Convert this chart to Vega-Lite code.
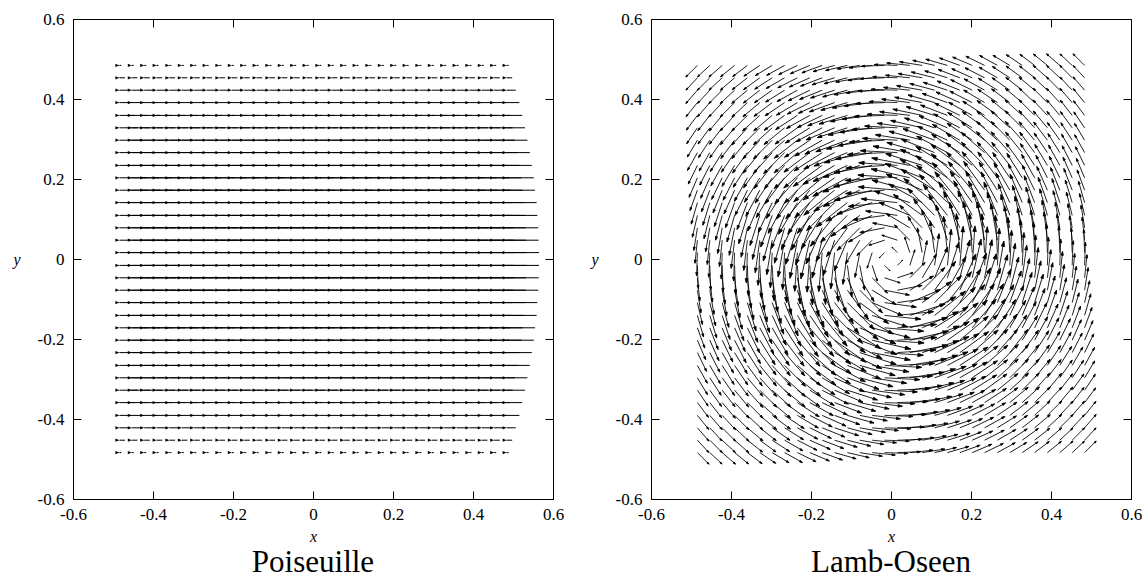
{"$schema":"https://vega.github.io/schema/vega-lite/v6.json","padding":{"left":12,"top":9,"right":0,"bottom":0},"spacing":25,
"config":{"view":{"stroke":"black","strokeWidth":1},"style":{"guide-label":{"font":"Liberation Serif","fontSize":17,"fill":"black"},"guide-title":{"font":"Liberation Serif","fontSize":16,"fontStyle":"italic","fontWeight":"normal","fill":"black"}}},
"hconcat":[
{"width":480,"height":480,"title":{"text":"Poiseuille","orient":"bottom","anchor":"middle","font":"Liberation Serif","fontSize":31,"fontWeight":"normal","color":"black","offset":4},"data":{"name":"pois"},
"encoding":{"x":{"field":"x","type":"quantitative","scale":{"domain":[-0.6,0.6],"nice":false,"zero":false},"axis":{"orient":"bottom","values":[-0.6,-0.4,-0.2,0,0.2,0.4,0.6],"labelExpr":"(datum.value < 0 ? '-' : '') + format(abs(datum.value), '.1~f')","title":"x","domain":false,"ticks":false,"grid":true,"gridColor":"black","gridOpacity":1,"gridDash":[8,464],"labelFont":"Liberation Serif","labelFontSize":17,"labelPadding":7,"labelFlush":false,"labelOverlap":false,"titleFont":"Liberation Serif","titleFontSize":16,"titleFontStyle":"italic","titleFontWeight":"normal","titlePadding":6}},
"y":{"field":"y","type":"quantitative","scale":{"domain":[-0.6,0.6],"nice":false,"zero":false},"axis":{"orient":"left","values":[-0.6,-0.4,-0.2,0,0.2,0.4,0.6],"labelExpr":"(datum.value < 0 ? '-' : '') + format(abs(datum.value), '.1~f')","title":"y","domain":false,"ticks":false,"grid":true,"gridColor":"black","gridOpacity":1,"gridDash":[8,464],"labelFont":"Liberation Serif","labelFontSize":17,"labelPadding":9,"labelFlush":false,"labelOverlap":false,"titleFont":"Liberation Serif","titleFontSize":16,"titleFontStyle":"italic","titleFontWeight":"normal","titleAngle":0,"titleAlign":"right","titleBaseline":"middle","titlePadding":17}}},
"layer":[
{"mark":{"type":"point","shape":"M0,0L2,0","filled":false,"stroke":"black","strokeWidth":1,"opacity":1},
"encoding":{"size":{"field":"u","type":"quantitative","scale":{"type":"pow","exponent":2,"domain":[0,100],"range":[0,1600]},"legend":null}}},
{"mark":{"type":"point","shape":"M0,0L-2,-0.8L-2,0.8Z","filled":true,"fill":"black","size":16,"opacity":1},
"encoding":{"xOffset":{"field":"u","type":"quantitative","scale":{"domain":[0,100],"range":[0,40]}}}}]},
{"width":480,"height":480,"title":{"text":"Lamb-Oseen","orient":"bottom","anchor":"middle","font":"Liberation Serif","fontSize":31,"fontWeight":"normal","color":"black","offset":4},"data":{"name":"lamb"},
"mark":{"type":"point","shape":"M0,0L2,0M2,0L1.72,-0.09L1.72,0.09Z","filled":true,"fill":"black","stroke":"black","strokeWidth":0.8,"opacity":1},
"encoding":{"x":{"field":"x","type":"quantitative","scale":{"domain":[-0.6,0.6],"nice":false,"zero":false},"axis":{"orient":"bottom","values":[-0.6,-0.4,-0.2,0,0.2,0.4,0.6],"labelExpr":"(datum.value < 0 ? '-' : '') + format(abs(datum.value), '.1~f')","title":"x","domain":false,"ticks":false,"grid":true,"gridColor":"black","gridOpacity":1,"gridDash":[8,464],"labelFont":"Liberation Serif","labelFontSize":17,"labelPadding":7,"labelFlush":false,"labelOverlap":false,"titleFont":"Liberation Serif","titleFontSize":16,"titleFontStyle":"italic","titleFontWeight":"normal","titlePadding":6}},
"y":{"field":"y","type":"quantitative","scale":{"domain":[-0.6,0.6],"nice":false,"zero":false},"axis":{"orient":"left","values":[-0.6,-0.4,-0.2,0,0.2,0.4,0.6],"labelExpr":"(datum.value < 0 ? '-' : '') + format(abs(datum.value), '.1~f')","title":"y","domain":false,"ticks":false,"grid":true,"gridColor":"black","gridOpacity":1,"gridDash":[8,464],"labelFont":"Liberation Serif","labelFontSize":17,"labelPadding":9,"labelFlush":false,"labelOverlap":false,"titleFont":"Liberation Serif","titleFontSize":16,"titleFontStyle":"italic","titleFontWeight":"normal","titleAngle":0,"titleAlign":"right","titleBaseline":"middle","titlePadding":17}},
"size":{"field":"m","type":"quantitative","scale":{"type":"pow","exponent":2,"domain":[0,100],"range":[0,1600]},"legend":null},
"angle":{"field":"a","type":"quantitative","scale":{"domain":[0,360],"range":[360,0]},"legend":null}}}],
"datasets":{
"pois":[
{"x":-0.484,"y":-0.484,"u":5},{"x":-0.453,"y":-0.484,"u":5},{"x":-0.422,"y":-0.484,"u":5},{"x":-0.391,"y":-0.484,"u":5},{"x":-0.359,"y":-0.484,"u":5},{"x":-0.328,"y":-0.484,"u":5},{"x":-0.297,"y":-0.484,"u":5},{"x":-0.266,"y":-0.484,"u":5},{"x":-0.234,"y":-0.484,"u":5},{"x":-0.203,"y":-0.484,"u":5},{"x":-0.172,"y":-0.484,"u":5},{"x":-0.141,"y":-0.484,"u":5},{"x":-0.109,"y":-0.484,"u":5},{"x":-0.078,"y":-0.484,"u":5},{"x":-0.047,"y":-0.484,"u":5},{"x":-0.016,"y":-0.484,"u":5},{"x":0.016,"y":-0.484,"u":5},{"x":0.047,"y":-0.484,"u":5},{"x":0.078,"y":-0.484,"u":5},{"x":0.109,"y":-0.484,"u":5},{"x":0.141,"y":-0.484,"u":5},{"x":0.172,"y":-0.484,"u":5},{"x":0.203,"y":-0.484,"u":5},{"x":0.234,"y":-0.484,"u":5},{"x":0.266,"y":-0.484,"u":5},{"x":0.297,"y":-0.484,"u":5},{"x":0.328,"y":-0.484,"u":5},{"x":0.359,"y":-0.484,"u":5},{"x":0.391,"y":-0.484,"u":5},{"x":0.422,"y":-0.484,"u":5},{"x":0.453,"y":-0.484,"u":5},{"x":0.484,"y":-0.484,"u":5},
{"x":-0.484,"y":-0.453,"u":14},{"x":-0.453,"y":-0.453,"u":14},{"x":-0.422,"y":-0.453,"u":14},{"x":-0.391,"y":-0.453,"u":14},{"x":-0.359,"y":-0.453,"u":14},{"x":-0.328,"y":-0.453,"u":14},{"x":-0.297,"y":-0.453,"u":14},{"x":-0.266,"y":-0.453,"u":14},{"x":-0.234,"y":-0.453,"u":14},{"x":-0.203,"y":-0.453,"u":14},{"x":-0.172,"y":-0.453,"u":14},{"x":-0.141,"y":-0.453,"u":14},{"x":-0.109,"y":-0.453,"u":14},{"x":-0.078,"y":-0.453,"u":14},{"x":-0.047,"y":-0.453,"u":14},{"x":-0.016,"y":-0.453,"u":14},{"x":0.016,"y":-0.453,"u":14},{"x":0.047,"y":-0.453,"u":14},{"x":0.078,"y":-0.453,"u":14},{"x":0.109,"y":-0.453,"u":14},{"x":0.141,"y":-0.453,"u":14},{"x":0.172,"y":-0.453,"u":14},{"x":0.203,"y":-0.453,"u":14},{"x":0.234,"y":-0.453,"u":14},{"x":0.266,"y":-0.453,"u":14},{"x":0.297,"y":-0.453,"u":14},{"x":0.328,"y":-0.453,"u":14},{"x":0.359,"y":-0.453,"u":14},{"x":0.391,"y":-0.453,"u":14},{"x":0.422,"y":-0.453,"u":14},{"x":0.453,"y":-0.453,"u":14},{"x":0.484,"y":-0.453,"u":14},
{"x":-0.484,"y":-0.422,"u":23},{"x":-0.453,"y":-0.422,"u":23},{"x":-0.422,"y":-0.422,"u":23},{"x":-0.391,"y":-0.422,"u":23},{"x":-0.359,"y":-0.422,"u":23},{"x":-0.328,"y":-0.422,"u":23},{"x":-0.297,"y":-0.422,"u":23},{"x":-0.266,"y":-0.422,"u":23},{"x":-0.234,"y":-0.422,"u":23},{"x":-0.203,"y":-0.422,"u":23},{"x":-0.172,"y":-0.422,"u":23},{"x":-0.141,"y":-0.422,"u":23},{"x":-0.109,"y":-0.422,"u":23},{"x":-0.078,"y":-0.422,"u":23},{"x":-0.047,"y":-0.422,"u":23},{"x":-0.016,"y":-0.422,"u":23},{"x":0.016,"y":-0.422,"u":23},{"x":0.047,"y":-0.422,"u":23},{"x":0.078,"y":-0.422,"u":23},{"x":0.109,"y":-0.422,"u":23},{"x":0.141,"y":-0.422,"u":23},{"x":0.172,"y":-0.422,"u":23},{"x":0.203,"y":-0.422,"u":23},{"x":0.234,"y":-0.422,"u":23},{"x":0.266,"y":-0.422,"u":23},{"x":0.297,"y":-0.422,"u":23},{"x":0.328,"y":-0.422,"u":23},{"x":0.359,"y":-0.422,"u":23},{"x":0.391,"y":-0.422,"u":23},{"x":0.422,"y":-0.422,"u":23},{"x":0.453,"y":-0.422,"u":23},{"x":0.484,"y":-0.422,"u":23},
{"x":-0.484,"y":-0.391,"u":32},{"x":-0.453,"y":-0.391,"u":32},{"x":-0.422,"y":-0.391,"u":32},{"x":-0.391,"y":-0.391,"u":32},{"x":-0.359,"y":-0.391,"u":32},{"x":-0.328,"y":-0.391,"u":32},{"x":-0.297,"y":-0.391,"u":32},{"x":-0.266,"y":-0.391,"u":32},{"x":-0.234,"y":-0.391,"u":32},{"x":-0.203,"y":-0.391,"u":32},{"x":-0.172,"y":-0.391,"u":32},{"x":-0.141,"y":-0.391,"u":32},{"x":-0.109,"y":-0.391,"u":32},{"x":-0.078,"y":-0.391,"u":32},{"x":-0.047,"y":-0.391,"u":32},{"x":-0.016,"y":-0.391,"u":32},{"x":0.016,"y":-0.391,"u":32},{"x":0.047,"y":-0.391,"u":32},{"x":0.078,"y":-0.391,"u":32},{"x":0.109,"y":-0.391,"u":32},{"x":0.141,"y":-0.391,"u":32},{"x":0.172,"y":-0.391,"u":32},{"x":0.203,"y":-0.391,"u":32},{"x":0.234,"y":-0.391,"u":32},{"x":0.266,"y":-0.391,"u":32},{"x":0.297,"y":-0.391,"u":32},{"x":0.328,"y":-0.391,"u":32},{"x":0.359,"y":-0.391,"u":32},{"x":0.391,"y":-0.391,"u":32},{"x":0.422,"y":-0.391,"u":32},{"x":0.453,"y":-0.391,"u":32},{"x":0.484,"y":-0.391,"u":32},
{"x":-0.484,"y":-0.359,"u":39},{"x":-0.453,"y":-0.359,"u":39},{"x":-0.422,"y":-0.359,"u":39},{"x":-0.391,"y":-0.359,"u":39},{"x":-0.359,"y":-0.359,"u":39},{"x":-0.328,"y":-0.359,"u":39},{"x":-0.297,"y":-0.359,"u":39},{"x":-0.266,"y":-0.359,"u":39},{"x":-0.234,"y":-0.359,"u":39},{"x":-0.203,"y":-0.359,"u":39},{"x":-0.172,"y":-0.359,"u":39},{"x":-0.141,"y":-0.359,"u":39},{"x":-0.109,"y":-0.359,"u":39},{"x":-0.078,"y":-0.359,"u":39},{"x":-0.047,"y":-0.359,"u":39},{"x":-0.016,"y":-0.359,"u":39},{"x":0.016,"y":-0.359,"u":39},{"x":0.047,"y":-0.359,"u":39},{"x":0.078,"y":-0.359,"u":39},{"x":0.109,"y":-0.359,"u":39},{"x":0.141,"y":-0.359,"u":39},{"x":0.172,"y":-0.359,"u":39},{"x":0.203,"y":-0.359,"u":39},{"x":0.234,"y":-0.359,"u":39},{"x":0.266,"y":-0.359,"u":39},{"x":0.297,"y":-0.359,"u":39},{"x":0.328,"y":-0.359,"u":39},{"x":0.359,"y":-0.359,"u":39},{"x":0.391,"y":-0.359,"u":39},{"x":0.422,"y":-0.359,"u":39},{"x":0.453,"y":-0.359,"u":39},{"x":0.484,"y":-0.359,"u":39},
{"x":-0.484,"y":-0.328,"u":46},{"x":-0.453,"y":-0.328,"u":46},{"x":-0.422,"y":-0.328,"u":46},{"x":-0.391,"y":-0.328,"u":46},{"x":-0.359,"y":-0.328,"u":46},{"x":-0.328,"y":-0.328,"u":46},{"x":-0.297,"y":-0.328,"u":46},{"x":-0.266,"y":-0.328,"u":46},{"x":-0.234,"y":-0.328,"u":46},{"x":-0.203,"y":-0.328,"u":46},{"x":-0.172,"y":-0.328,"u":46},{"x":-0.141,"y":-0.328,"u":46},{"x":-0.109,"y":-0.328,"u":46},{"x":-0.078,"y":-0.328,"u":46},{"x":-0.047,"y":-0.328,"u":46},{"x":-0.016,"y":-0.328,"u":46},{"x":0.016,"y":-0.328,"u":46},{"x":0.047,"y":-0.328,"u":46},{"x":0.078,"y":-0.328,"u":46},{"x":0.109,"y":-0.328,"u":46},{"x":0.141,"y":-0.328,"u":46},{"x":0.172,"y":-0.328,"u":46},{"x":0.203,"y":-0.328,"u":46},{"x":0.234,"y":-0.328,"u":46},{"x":0.266,"y":-0.328,"u":46},{"x":0.297,"y":-0.328,"u":46},{"x":0.328,"y":-0.328,"u":46},{"x":0.359,"y":-0.328,"u":46},{"x":0.391,"y":-0.328,"u":46},{"x":0.422,"y":-0.328,"u":46},{"x":0.453,"y":-0.328,"u":46},{"x":0.484,"y":-0.328,"u":46},
{"x":-0.484,"y":-0.297,"u":52},{"x":-0.453,"y":-0.297,"u":52},{"x":-0.422,"y":-0.297,"u":52},{"x":-0.391,"y":-0.297,"u":52},{"x":-0.359,"y":-0.297,"u":52},{"x":-0.328,"y":-0.297,"u":52},{"x":-0.297,"y":-0.297,"u":52},{"x":-0.266,"y":-0.297,"u":52},{"x":-0.234,"y":-0.297,"u":52},{"x":-0.203,"y":-0.297,"u":52},{"x":-0.172,"y":-0.297,"u":52},{"x":-0.141,"y":-0.297,"u":52},{"x":-0.109,"y":-0.297,"u":52},{"x":-0.078,"y":-0.297,"u":52},{"x":-0.047,"y":-0.297,"u":52},{"x":-0.016,"y":-0.297,"u":52},{"x":0.016,"y":-0.297,"u":52},{"x":0.047,"y":-0.297,"u":52},{"x":0.078,"y":-0.297,"u":52},{"x":0.109,"y":-0.297,"u":52},{"x":0.141,"y":-0.297,"u":52},{"x":0.172,"y":-0.297,"u":52},{"x":0.203,"y":-0.297,"u":52},{"x":0.234,"y":-0.297,"u":52},{"x":0.266,"y":-0.297,"u":52},{"x":0.297,"y":-0.297,"u":52},{"x":0.328,"y":-0.297,"u":52},{"x":0.359,"y":-0.297,"u":52},{"x":0.391,"y":-0.297,"u":52},{"x":0.422,"y":-0.297,"u":52},{"x":0.453,"y":-0.297,"u":52},{"x":0.484,"y":-0.297,"u":52},
{"x":-0.484,"y":-0.266,"u":58},{"x":-0.453,"y":-0.266,"u":58},{"x":-0.422,"y":-0.266,"u":58},{"x":-0.391,"y":-0.266,"u":58},{"x":-0.359,"y":-0.266,"u":58},{"x":-0.328,"y":-0.266,"u":58},{"x":-0.297,"y":-0.266,"u":58},{"x":-0.266,"y":-0.266,"u":58},{"x":-0.234,"y":-0.266,"u":58},{"x":-0.203,"y":-0.266,"u":58},{"x":-0.172,"y":-0.266,"u":58},{"x":-0.141,"y":-0.266,"u":58},{"x":-0.109,"y":-0.266,"u":58},{"x":-0.078,"y":-0.266,"u":58},{"x":-0.047,"y":-0.266,"u":58},{"x":-0.016,"y":-0.266,"u":58},{"x":0.016,"y":-0.266,"u":58},{"x":0.047,"y":-0.266,"u":58},{"x":0.078,"y":-0.266,"u":58},{"x":0.109,"y":-0.266,"u":58},{"x":0.141,"y":-0.266,"u":58},{"x":0.172,"y":-0.266,"u":58},{"x":0.203,"y":-0.266,"u":58},{"x":0.234,"y":-0.266,"u":58},{"x":0.266,"y":-0.266,"u":58},{"x":0.297,"y":-0.266,"u":58},{"x":0.328,"y":-0.266,"u":58},{"x":0.359,"y":-0.266,"u":58},{"x":0.391,"y":-0.266,"u":58},{"x":0.422,"y":-0.266,"u":58},{"x":0.453,"y":-0.266,"u":58},{"x":0.484,"y":-0.266,"u":58},
{"x":-0.484,"y":-0.234,"u":63},{"x":-0.453,"y":-0.234,"u":63},{"x":-0.422,"y":-0.234,"u":63},{"x":-0.391,"y":-0.234,"u":63},{"x":-0.359,"y":-0.234,"u":63},{"x":-0.328,"y":-0.234,"u":63},{"x":-0.297,"y":-0.234,"u":63},{"x":-0.266,"y":-0.234,"u":63},{"x":-0.234,"y":-0.234,"u":63},{"x":-0.203,"y":-0.234,"u":63},{"x":-0.172,"y":-0.234,"u":63},{"x":-0.141,"y":-0.234,"u":63},{"x":-0.109,"y":-0.234,"u":63},{"x":-0.078,"y":-0.234,"u":63},{"x":-0.047,"y":-0.234,"u":63},{"x":-0.016,"y":-0.234,"u":63},{"x":0.016,"y":-0.234,"u":63},{"x":0.047,"y":-0.234,"u":63},{"x":0.078,"y":-0.234,"u":63},{"x":0.109,"y":-0.234,"u":63},{"x":0.141,"y":-0.234,"u":63},{"x":0.172,"y":-0.234,"u":63},{"x":0.203,"y":-0.234,"u":63},{"x":0.234,"y":-0.234,"u":63},{"x":0.266,"y":-0.234,"u":63},{"x":0.297,"y":-0.234,"u":63},{"x":0.328,"y":-0.234,"u":63},{"x":0.359,"y":-0.234,"u":63},{"x":0.391,"y":-0.234,"u":63},{"x":0.422,"y":-0.234,"u":63},{"x":0.453,"y":-0.234,"u":63},{"x":0.484,"y":-0.234,"u":63},
{"x":-0.484,"y":-0.203,"u":68},{"x":-0.453,"y":-0.203,"u":68},{"x":-0.422,"y":-0.203,"u":68},{"x":-0.391,"y":-0.203,"u":68},{"x":-0.359,"y":-0.203,"u":68},{"x":-0.328,"y":-0.203,"u":68},{"x":-0.297,"y":-0.203,"u":68},{"x":-0.266,"y":-0.203,"u":68},{"x":-0.234,"y":-0.203,"u":68},{"x":-0.203,"y":-0.203,"u":68},{"x":-0.172,"y":-0.203,"u":68},{"x":-0.141,"y":-0.203,"u":68},{"x":-0.109,"y":-0.203,"u":68},{"x":-0.078,"y":-0.203,"u":68},{"x":-0.047,"y":-0.203,"u":68},{"x":-0.016,"y":-0.203,"u":68},{"x":0.016,"y":-0.203,"u":68},{"x":0.047,"y":-0.203,"u":68},{"x":0.078,"y":-0.203,"u":68},{"x":0.109,"y":-0.203,"u":68},{"x":0.141,"y":-0.203,"u":68},{"x":0.172,"y":-0.203,"u":68},{"x":0.203,"y":-0.203,"u":68},{"x":0.234,"y":-0.203,"u":68},{"x":0.266,"y":-0.203,"u":68},{"x":0.297,"y":-0.203,"u":68},{"x":0.328,"y":-0.203,"u":68},{"x":0.359,"y":-0.203,"u":68},{"x":0.391,"y":-0.203,"u":68},{"x":0.422,"y":-0.203,"u":68},{"x":0.453,"y":-0.203,"u":68},{"x":0.484,"y":-0.203,"u":68},
{"x":-0.484,"y":-0.172,"u":71},{"x":-0.453,"y":-0.172,"u":71},{"x":-0.422,"y":-0.172,"u":71},{"x":-0.391,"y":-0.172,"u":71},{"x":-0.359,"y":-0.172,"u":71},{"x":-0.328,"y":-0.172,"u":71},{"x":-0.297,"y":-0.172,"u":71},{"x":-0.266,"y":-0.172,"u":71},{"x":-0.234,"y":-0.172,"u":71},{"x":-0.203,"y":-0.172,"u":71},{"x":-0.172,"y":-0.172,"u":71},{"x":-0.141,"y":-0.172,"u":71},{"x":-0.109,"y":-0.172,"u":71},{"x":-0.078,"y":-0.172,"u":71},{"x":-0.047,"y":-0.172,"u":71},{"x":-0.016,"y":-0.172,"u":71},{"x":0.016,"y":-0.172,"u":71},{"x":0.047,"y":-0.172,"u":71},{"x":0.078,"y":-0.172,"u":71},{"x":0.109,"y":-0.172,"u":71},{"x":0.141,"y":-0.172,"u":71},{"x":0.172,"y":-0.172,"u":71},{"x":0.203,"y":-0.172,"u":71},{"x":0.234,"y":-0.172,"u":71},{"x":0.266,"y":-0.172,"u":71},{"x":0.297,"y":-0.172,"u":71},{"x":0.328,"y":-0.172,"u":71},{"x":0.359,"y":-0.172,"u":71},{"x":0.391,"y":-0.172,"u":71},{"x":0.422,"y":-0.172,"u":71},{"x":0.453,"y":-0.172,"u":71},{"x":0.484,"y":-0.172,"u":71},
{"x":-0.484,"y":-0.141,"u":75},{"x":-0.453,"y":-0.141,"u":75},{"x":-0.422,"y":-0.141,"u":75},{"x":-0.391,"y":-0.141,"u":75},{"x":-0.359,"y":-0.141,"u":75},{"x":-0.328,"y":-0.141,"u":75},{"x":-0.297,"y":-0.141,"u":75},{"x":-0.266,"y":-0.141,"u":75},{"x":-0.234,"y":-0.141,"u":75},{"x":-0.203,"y":-0.141,"u":75},{"x":-0.172,"y":-0.141,"u":75},{"x":-0.141,"y":-0.141,"u":75},{"x":-0.109,"y":-0.141,"u":75},{"x":-0.078,"y":-0.141,"u":75},{"x":-0.047,"y":-0.141,"u":75},{"x":-0.016,"y":-0.141,"u":75},{"x":0.016,"y":-0.141,"u":75},{"x":0.047,"y":-0.141,"u":75},{"x":0.078,"y":-0.141,"u":75},{"x":0.109,"y":-0.141,"u":75},{"x":0.141,"y":-0.141,"u":75},{"x":0.172,"y":-0.141,"u":75},{"x":0.203,"y":-0.141,"u":75},{"x":0.234,"y":-0.141,"u":75},{"x":0.266,"y":-0.141,"u":75},{"x":0.297,"y":-0.141,"u":75},{"x":0.328,"y":-0.141,"u":75},{"x":0.359,"y":-0.141,"u":75},{"x":0.391,"y":-0.141,"u":75},{"x":0.422,"y":-0.141,"u":75},{"x":0.453,"y":-0.141,"u":75},{"x":0.484,"y":-0.141,"u":75},
{"x":-0.484,"y":-0.109,"u":77},{"x":-0.453,"y":-0.109,"u":77},{"x":-0.422,"y":-0.109,"u":77},{"x":-0.391,"y":-0.109,"u":77},{"x":-0.359,"y":-0.109,"u":77},{"x":-0.328,"y":-0.109,"u":77},{"x":-0.297,"y":-0.109,"u":77},{"x":-0.266,"y":-0.109,"u":77},{"x":-0.234,"y":-0.109,"u":77},{"x":-0.203,"y":-0.109,"u":77},{"x":-0.172,"y":-0.109,"u":77},{"x":-0.141,"y":-0.109,"u":77},{"x":-0.109,"y":-0.109,"u":77},{"x":-0.078,"y":-0.109,"u":77},{"x":-0.047,"y":-0.109,"u":77},{"x":-0.016,"y":-0.109,"u":77},{"x":0.016,"y":-0.109,"u":77},{"x":0.047,"y":-0.109,"u":77},{"x":0.078,"y":-0.109,"u":77},{"x":0.109,"y":-0.109,"u":77},{"x":0.141,"y":-0.109,"u":77},{"x":0.172,"y":-0.109,"u":77},{"x":0.203,"y":-0.109,"u":77},{"x":0.234,"y":-0.109,"u":77},{"x":0.266,"y":-0.109,"u":77},{"x":0.297,"y":-0.109,"u":77},{"x":0.328,"y":-0.109,"u":77},{"x":0.359,"y":-0.109,"u":77},{"x":0.391,"y":-0.109,"u":77},{"x":0.422,"y":-0.109,"u":77},{"x":0.453,"y":-0.109,"u":77},{"x":0.484,"y":-0.109,"u":77},
{"x":-0.484,"y":-0.078,"u":79},{"x":-0.453,"y":-0.078,"u":79},{"x":-0.422,"y":-0.078,"u":79},{"x":-0.391,"y":-0.078,"u":79},{"x":-0.359,"y":-0.078,"u":79},{"x":-0.328,"y":-0.078,"u":79},{"x":-0.297,"y":-0.078,"u":79},{"x":-0.266,"y":-0.078,"u":79},{"x":-0.234,"y":-0.078,"u":79},{"x":-0.203,"y":-0.078,"u":79},{"x":-0.172,"y":-0.078,"u":79},{"x":-0.141,"y":-0.078,"u":79},{"x":-0.109,"y":-0.078,"u":79},{"x":-0.078,"y":-0.078,"u":79},{"x":-0.047,"y":-0.078,"u":79},{"x":-0.016,"y":-0.078,"u":79},{"x":0.016,"y":-0.078,"u":79},{"x":0.047,"y":-0.078,"u":79},{"x":0.078,"y":-0.078,"u":79},{"x":0.109,"y":-0.078,"u":79},{"x":0.141,"y":-0.078,"u":79},{"x":0.172,"y":-0.078,"u":79},{"x":0.203,"y":-0.078,"u":79},{"x":0.234,"y":-0.078,"u":79},{"x":0.266,"y":-0.078,"u":79},{"x":0.297,"y":-0.078,"u":79},{"x":0.328,"y":-0.078,"u":79},{"x":0.359,"y":-0.078,"u":79},{"x":0.391,"y":-0.078,"u":79},{"x":0.422,"y":-0.078,"u":79},{"x":0.453,"y":-0.078,"u":79},{"x":0.484,"y":-0.078,"u":79},
{"x":-0.484,"y":-0.047,"u":80},{"x":-0.453,"y":-0.047,"u":80},{"x":-0.422,"y":-0.047,"u":80},{"x":-0.391,"y":-0.047,"u":80},{"x":-0.359,"y":-0.047,"u":80},{"x":-0.328,"y":-0.047,"u":80},{"x":-0.297,"y":-0.047,"u":80},{"x":-0.266,"y":-0.047,"u":80},{"x":-0.234,"y":-0.047,"u":80},{"x":-0.203,"y":-0.047,"u":80},{"x":-0.172,"y":-0.047,"u":80},{"x":-0.141,"y":-0.047,"u":80},{"x":-0.109,"y":-0.047,"u":80},{"x":-0.078,"y":-0.047,"u":80},{"x":-0.047,"y":-0.047,"u":80},{"x":-0.016,"y":-0.047,"u":80},{"x":0.016,"y":-0.047,"u":80},{"x":0.047,"y":-0.047,"u":80},{"x":0.078,"y":-0.047,"u":80},{"x":0.109,"y":-0.047,"u":80},{"x":0.141,"y":-0.047,"u":80},{"x":0.172,"y":-0.047,"u":80},{"x":0.203,"y":-0.047,"u":80},{"x":0.234,"y":-0.047,"u":80},{"x":0.266,"y":-0.047,"u":80},{"x":0.297,"y":-0.047,"u":80},{"x":0.328,"y":-0.047,"u":80},{"x":0.359,"y":-0.047,"u":80},{"x":0.391,"y":-0.047,"u":80},{"x":0.422,"y":-0.047,"u":80},{"x":0.453,"y":-0.047,"u":80},{"x":0.484,"y":-0.047,"u":80},
{"x":-0.484,"y":-0.016,"u":81},{"x":-0.453,"y":-0.016,"u":81},{"x":-0.422,"y":-0.016,"u":81},{"x":-0.391,"y":-0.016,"u":81},{"x":-0.359,"y":-0.016,"u":81},{"x":-0.328,"y":-0.016,"u":81},{"x":-0.297,"y":-0.016,"u":81},{"x":-0.266,"y":-0.016,"u":81},{"x":-0.234,"y":-0.016,"u":81},{"x":-0.203,"y":-0.016,"u":81},{"x":-0.172,"y":-0.016,"u":81},{"x":-0.141,"y":-0.016,"u":81},{"x":-0.109,"y":-0.016,"u":81},{"x":-0.078,"y":-0.016,"u":81},{"x":-0.047,"y":-0.016,"u":81},{"x":-0.016,"y":-0.016,"u":81},{"x":0.016,"y":-0.016,"u":81},{"x":0.047,"y":-0.016,"u":81},{"x":0.078,"y":-0.016,"u":81},{"x":0.109,"y":-0.016,"u":81},{"x":0.141,"y":-0.016,"u":81},{"x":0.172,"y":-0.016,"u":81},{"x":0.203,"y":-0.016,"u":81},{"x":0.234,"y":-0.016,"u":81},{"x":0.266,"y":-0.016,"u":81},{"x":0.297,"y":-0.016,"u":81},{"x":0.328,"y":-0.016,"u":81},{"x":0.359,"y":-0.016,"u":81},{"x":0.391,"y":-0.016,"u":81},{"x":0.422,"y":-0.016,"u":81},{"x":0.453,"y":-0.016,"u":81},{"x":0.484,"y":-0.016,"u":81},
{"x":-0.484,"y":0.016,"u":81},{"x":-0.453,"y":0.016,"u":81},{"x":-0.422,"y":0.016,"u":81},{"x":-0.391,"y":0.016,"u":81},{"x":-0.359,"y":0.016,"u":81},{"x":-0.328,"y":0.016,"u":81},{"x":-0.297,"y":0.016,"u":81},{"x":-0.266,"y":0.016,"u":81},{"x":-0.234,"y":0.016,"u":81},{"x":-0.203,"y":0.016,"u":81},{"x":-0.172,"y":0.016,"u":81},{"x":-0.141,"y":0.016,"u":81},{"x":-0.109,"y":0.016,"u":81},{"x":-0.078,"y":0.016,"u":81},{"x":-0.047,"y":0.016,"u":81},{"x":-0.016,"y":0.016,"u":81},{"x":0.016,"y":0.016,"u":81},{"x":0.047,"y":0.016,"u":81},{"x":0.078,"y":0.016,"u":81},{"x":0.109,"y":0.016,"u":81},{"x":0.141,"y":0.016,"u":81},{"x":0.172,"y":0.016,"u":81},{"x":0.203,"y":0.016,"u":81},{"x":0.234,"y":0.016,"u":81},{"x":0.266,"y":0.016,"u":81},{"x":0.297,"y":0.016,"u":81},{"x":0.328,"y":0.016,"u":81},{"x":0.359,"y":0.016,"u":81},{"x":0.391,"y":0.016,"u":81},{"x":0.422,"y":0.016,"u":81},{"x":0.453,"y":0.016,"u":81},{"x":0.484,"y":0.016,"u":81},
{"x":-0.484,"y":0.047,"u":80},{"x":-0.453,"y":0.047,"u":80},{"x":-0.422,"y":0.047,"u":80},{"x":-0.391,"y":0.047,"u":80},{"x":-0.359,"y":0.047,"u":80},{"x":-0.328,"y":0.047,"u":80},{"x":-0.297,"y":0.047,"u":80},{"x":-0.266,"y":0.047,"u":80},{"x":-0.234,"y":0.047,"u":80},{"x":-0.203,"y":0.047,"u":80},{"x":-0.172,"y":0.047,"u":80},{"x":-0.141,"y":0.047,"u":80},{"x":-0.109,"y":0.047,"u":80},{"x":-0.078,"y":0.047,"u":80},{"x":-0.047,"y":0.047,"u":80},{"x":-0.016,"y":0.047,"u":80},{"x":0.016,"y":0.047,"u":80},{"x":0.047,"y":0.047,"u":80},{"x":0.078,"y":0.047,"u":80},{"x":0.109,"y":0.047,"u":80},{"x":0.141,"y":0.047,"u":80},{"x":0.172,"y":0.047,"u":80},{"x":0.203,"y":0.047,"u":80},{"x":0.234,"y":0.047,"u":80},{"x":0.266,"y":0.047,"u":80},{"x":0.297,"y":0.047,"u":80},{"x":0.328,"y":0.047,"u":80},{"x":0.359,"y":0.047,"u":80},{"x":0.391,"y":0.047,"u":80},{"x":0.422,"y":0.047,"u":80},{"x":0.453,"y":0.047,"u":80},{"x":0.484,"y":0.047,"u":80},
{"x":-0.484,"y":0.078,"u":79},{"x":-0.453,"y":0.078,"u":79},{"x":-0.422,"y":0.078,"u":79},{"x":-0.391,"y":0.078,"u":79},{"x":-0.359,"y":0.078,"u":79},{"x":-0.328,"y":0.078,"u":79},{"x":-0.297,"y":0.078,"u":79},{"x":-0.266,"y":0.078,"u":79},{"x":-0.234,"y":0.078,"u":79},{"x":-0.203,"y":0.078,"u":79},{"x":-0.172,"y":0.078,"u":79},{"x":-0.141,"y":0.078,"u":79},{"x":-0.109,"y":0.078,"u":79},{"x":-0.078,"y":0.078,"u":79},{"x":-0.047,"y":0.078,"u":79},{"x":-0.016,"y":0.078,"u":79},{"x":0.016,"y":0.078,"u":79},{"x":0.047,"y":0.078,"u":79},{"x":0.078,"y":0.078,"u":79},{"x":0.109,"y":0.078,"u":79},{"x":0.141,"y":0.078,"u":79},{"x":0.172,"y":0.078,"u":79},{"x":0.203,"y":0.078,"u":79},{"x":0.234,"y":0.078,"u":79},{"x":0.266,"y":0.078,"u":79},{"x":0.297,"y":0.078,"u":79},{"x":0.328,"y":0.078,"u":79},{"x":0.359,"y":0.078,"u":79},{"x":0.391,"y":0.078,"u":79},{"x":0.422,"y":0.078,"u":79},{"x":0.453,"y":0.078,"u":79},{"x":0.484,"y":0.078,"u":79},
{"x":-0.484,"y":0.109,"u":77},{"x":-0.453,"y":0.109,"u":77},{"x":-0.422,"y":0.109,"u":77},{"x":-0.391,"y":0.109,"u":77},{"x":-0.359,"y":0.109,"u":77},{"x":-0.328,"y":0.109,"u":77},{"x":-0.297,"y":0.109,"u":77},{"x":-0.266,"y":0.109,"u":77},{"x":-0.234,"y":0.109,"u":77},{"x":-0.203,"y":0.109,"u":77},{"x":-0.172,"y":0.109,"u":77},{"x":-0.141,"y":0.109,"u":77},{"x":-0.109,"y":0.109,"u":77},{"x":-0.078,"y":0.109,"u":77},{"x":-0.047,"y":0.109,"u":77},{"x":-0.016,"y":0.109,"u":77},{"x":0.016,"y":0.109,"u":77},{"x":0.047,"y":0.109,"u":77},{"x":0.078,"y":0.109,"u":77},{"x":0.109,"y":0.109,"u":77},{"x":0.141,"y":0.109,"u":77},{"x":0.172,"y":0.109,"u":77},{"x":0.203,"y":0.109,"u":77},{"x":0.234,"y":0.109,"u":77},{"x":0.266,"y":0.109,"u":77},{"x":0.297,"y":0.109,"u":77},{"x":0.328,"y":0.109,"u":77},{"x":0.359,"y":0.109,"u":77},{"x":0.391,"y":0.109,"u":77},{"x":0.422,"y":0.109,"u":77},{"x":0.453,"y":0.109,"u":77},{"x":0.484,"y":0.109,"u":77},
{"x":-0.484,"y":0.141,"u":75},{"x":-0.453,"y":0.141,"u":75},{"x":-0.422,"y":0.141,"u":75},{"x":-0.391,"y":0.141,"u":75},{"x":-0.359,"y":0.141,"u":75},{"x":-0.328,"y":0.141,"u":75},{"x":-0.297,"y":0.141,"u":75},{"x":-0.266,"y":0.141,"u":75},{"x":-0.234,"y":0.141,"u":75},{"x":-0.203,"y":0.141,"u":75},{"x":-0.172,"y":0.141,"u":75},{"x":-0.141,"y":0.141,"u":75},{"x":-0.109,"y":0.141,"u":75},{"x":-0.078,"y":0.141,"u":75},{"x":-0.047,"y":0.141,"u":75},{"x":-0.016,"y":0.141,"u":75},{"x":0.016,"y":0.141,"u":75},{"x":0.047,"y":0.141,"u":75},{"x":0.078,"y":0.141,"u":75},{"x":0.109,"y":0.141,"u":75},{"x":0.141,"y":0.141,"u":75},{"x":0.172,"y":0.141,"u":75},{"x":0.203,"y":0.141,"u":75},{"x":0.234,"y":0.141,"u":75},{"x":0.266,"y":0.141,"u":75},{"x":0.297,"y":0.141,"u":75},{"x":0.328,"y":0.141,"u":75},{"x":0.359,"y":0.141,"u":75},{"x":0.391,"y":0.141,"u":75},{"x":0.422,"y":0.141,"u":75},{"x":0.453,"y":0.141,"u":75},{"x":0.484,"y":0.141,"u":75},
{"x":-0.484,"y":0.172,"u":71},{"x":-0.453,"y":0.172,"u":71},{"x":-0.422,"y":0.172,"u":71},{"x":-0.391,"y":0.172,"u":71},{"x":-0.359,"y":0.172,"u":71},{"x":-0.328,"y":0.172,"u":71},{"x":-0.297,"y":0.172,"u":71},{"x":-0.266,"y":0.172,"u":71},{"x":-0.234,"y":0.172,"u":71},{"x":-0.203,"y":0.172,"u":71},{"x":-0.172,"y":0.172,"u":71},{"x":-0.141,"y":0.172,"u":71},{"x":-0.109,"y":0.172,"u":71},{"x":-0.078,"y":0.172,"u":71},{"x":-0.047,"y":0.172,"u":71},{"x":-0.016,"y":0.172,"u":71},{"x":0.016,"y":0.172,"u":71},{"x":0.047,"y":0.172,"u":71},{"x":0.078,"y":0.172,"u":71},{"x":0.109,"y":0.172,"u":71},{"x":0.141,"y":0.172,"u":71},{"x":0.172,"y":0.172,"u":71},{"x":0.203,"y":0.172,"u":71},{"x":0.234,"y":0.172,"u":71},{"x":0.266,"y":0.172,"u":71},{"x":0.297,"y":0.172,"u":71},{"x":0.328,"y":0.172,"u":71},{"x":0.359,"y":0.172,"u":71},{"x":0.391,"y":0.172,"u":71},{"x":0.422,"y":0.172,"u":71},{"x":0.453,"y":0.172,"u":71},{"x":0.484,"y":0.172,"u":71},
{"x":-0.484,"y":0.203,"u":68},{"x":-0.453,"y":0.203,"u":68},{"x":-0.422,"y":0.203,"u":68},{"x":-0.391,"y":0.203,"u":68},{"x":-0.359,"y":0.203,"u":68},{"x":-0.328,"y":0.203,"u":68},{"x":-0.297,"y":0.203,"u":68},{"x":-0.266,"y":0.203,"u":68},{"x":-0.234,"y":0.203,"u":68},{"x":-0.203,"y":0.203,"u":68},{"x":-0.172,"y":0.203,"u":68},{"x":-0.141,"y":0.203,"u":68},{"x":-0.109,"y":0.203,"u":68},{"x":-0.078,"y":0.203,"u":68},{"x":-0.047,"y":0.203,"u":68},{"x":-0.016,"y":0.203,"u":68},{"x":0.016,"y":0.203,"u":68},{"x":0.047,"y":0.203,"u":68},{"x":0.078,"y":0.203,"u":68},{"x":0.109,"y":0.203,"u":68},{"x":0.141,"y":0.203,"u":68},{"x":0.172,"y":0.203,"u":68},{"x":0.203,"y":0.203,"u":68},{"x":0.234,"y":0.203,"u":68},{"x":0.266,"y":0.203,"u":68},{"x":0.297,"y":0.203,"u":68},{"x":0.328,"y":0.203,"u":68},{"x":0.359,"y":0.203,"u":68},{"x":0.391,"y":0.203,"u":68},{"x":0.422,"y":0.203,"u":68},{"x":0.453,"y":0.203,"u":68},{"x":0.484,"y":0.203,"u":68},
{"x":-0.484,"y":0.234,"u":63},{"x":-0.453,"y":0.234,"u":63},{"x":-0.422,"y":0.234,"u":63},{"x":-0.391,"y":0.234,"u":63},{"x":-0.359,"y":0.234,"u":63},{"x":-0.328,"y":0.234,"u":63},{"x":-0.297,"y":0.234,"u":63},{"x":-0.266,"y":0.234,"u":63},{"x":-0.234,"y":0.234,"u":63},{"x":-0.203,"y":0.234,"u":63},{"x":-0.172,"y":0.234,"u":63},{"x":-0.141,"y":0.234,"u":63},{"x":-0.109,"y":0.234,"u":63},{"x":-0.078,"y":0.234,"u":63},{"x":-0.047,"y":0.234,"u":63},{"x":-0.016,"y":0.234,"u":63},{"x":0.016,"y":0.234,"u":63},{"x":0.047,"y":0.234,"u":63},{"x":0.078,"y":0.234,"u":63},{"x":0.109,"y":0.234,"u":63},{"x":0.141,"y":0.234,"u":63},{"x":0.172,"y":0.234,"u":63},{"x":0.203,"y":0.234,"u":63},{"x":0.234,"y":0.234,"u":63},{"x":0.266,"y":0.234,"u":63},{"x":0.297,"y":0.234,"u":63},{"x":0.328,"y":0.234,"u":63},{"x":0.359,"y":0.234,"u":63},{"x":0.391,"y":0.234,"u":63},{"x":0.422,"y":0.234,"u":63},{"x":0.453,"y":0.234,"u":63},{"x":0.484,"y":0.234,"u":63},
{"x":-0.484,"y":0.266,"u":58},{"x":-0.453,"y":0.266,"u":58},{"x":-0.422,"y":0.266,"u":58},{"x":-0.391,"y":0.266,"u":58},{"x":-0.359,"y":0.266,"u":58},{"x":-0.328,"y":0.266,"u":58},{"x":-0.297,"y":0.266,"u":58},{"x":-0.266,"y":0.266,"u":58},{"x":-0.234,"y":0.266,"u":58},{"x":-0.203,"y":0.266,"u":58},{"x":-0.172,"y":0.266,"u":58},{"x":-0.141,"y":0.266,"u":58},{"x":-0.109,"y":0.266,"u":58},{"x":-0.078,"y":0.266,"u":58},{"x":-0.047,"y":0.266,"u":58},{"x":-0.016,"y":0.266,"u":58},{"x":0.016,"y":0.266,"u":58},{"x":0.047,"y":0.266,"u":58},{"x":0.078,"y":0.266,"u":58},{"x":0.109,"y":0.266,"u":58},{"x":0.141,"y":0.266,"u":58},{"x":0.172,"y":0.266,"u":58},{"x":0.203,"y":0.266,"u":58},{"x":0.234,"y":0.266,"u":58},{"x":0.266,"y":0.266,"u":58},{"x":0.297,"y":0.266,"u":58},{"x":0.328,"y":0.266,"u":58},{"x":0.359,"y":0.266,"u":58},{"x":0.391,"y":0.266,"u":58},{"x":0.422,"y":0.266,"u":58},{"x":0.453,"y":0.266,"u":58},{"x":0.484,"y":0.266,"u":58},
{"x":-0.484,"y":0.297,"u":52},{"x":-0.453,"y":0.297,"u":52},{"x":-0.422,"y":0.297,"u":52},{"x":-0.391,"y":0.297,"u":52},{"x":-0.359,"y":0.297,"u":52},{"x":-0.328,"y":0.297,"u":52},{"x":-0.297,"y":0.297,"u":52},{"x":-0.266,"y":0.297,"u":52},{"x":-0.234,"y":0.297,"u":52},{"x":-0.203,"y":0.297,"u":52},{"x":-0.172,"y":0.297,"u":52},{"x":-0.141,"y":0.297,"u":52},{"x":-0.109,"y":0.297,"u":52},{"x":-0.078,"y":0.297,"u":52},{"x":-0.047,"y":0.297,"u":52},{"x":-0.016,"y":0.297,"u":52},{"x":0.016,"y":0.297,"u":52},{"x":0.047,"y":0.297,"u":52},{"x":0.078,"y":0.297,"u":52},{"x":0.109,"y":0.297,"u":52},{"x":0.141,"y":0.297,"u":52},{"x":0.172,"y":0.297,"u":52},{"x":0.203,"y":0.297,"u":52},{"x":0.234,"y":0.297,"u":52},{"x":0.266,"y":0.297,"u":52},{"x":0.297,"y":0.297,"u":52},{"x":0.328,"y":0.297,"u":52},{"x":0.359,"y":0.297,"u":52},{"x":0.391,"y":0.297,"u":52},{"x":0.422,"y":0.297,"u":52},{"x":0.453,"y":0.297,"u":52},{"x":0.484,"y":0.297,"u":52},
{"x":-0.484,"y":0.328,"u":46},{"x":-0.453,"y":0.328,"u":46},{"x":-0.422,"y":0.328,"u":46},{"x":-0.391,"y":0.328,"u":46},{"x":-0.359,"y":0.328,"u":46},{"x":-0.328,"y":0.328,"u":46},{"x":-0.297,"y":0.328,"u":46},{"x":-0.266,"y":0.328,"u":46},{"x":-0.234,"y":0.328,"u":46},{"x":-0.203,"y":0.328,"u":46},{"x":-0.172,"y":0.328,"u":46},{"x":-0.141,"y":0.328,"u":46},{"x":-0.109,"y":0.328,"u":46},{"x":-0.078,"y":0.328,"u":46},{"x":-0.047,"y":0.328,"u":46},{"x":-0.016,"y":0.328,"u":46},{"x":0.016,"y":0.328,"u":46},{"x":0.047,"y":0.328,"u":46},{"x":0.078,"y":0.328,"u":46},{"x":0.109,"y":0.328,"u":46},{"x":0.141,"y":0.328,"u":46},{"x":0.172,"y":0.328,"u":46},{"x":0.203,"y":0.328,"u":46},{"x":0.234,"y":0.328,"u":46},{"x":0.266,"y":0.328,"u":46},{"x":0.297,"y":0.328,"u":46},{"x":0.328,"y":0.328,"u":46},{"x":0.359,"y":0.328,"u":46},{"x":0.391,"y":0.328,"u":46},{"x":0.422,"y":0.328,"u":46},{"x":0.453,"y":0.328,"u":46},{"x":0.484,"y":0.328,"u":46},
{"x":-0.484,"y":0.359,"u":39},{"x":-0.453,"y":0.359,"u":39},{"x":-0.422,"y":0.359,"u":39},{"x":-0.391,"y":0.359,"u":39},{"x":-0.359,"y":0.359,"u":39},{"x":-0.328,"y":0.359,"u":39},{"x":-0.297,"y":0.359,"u":39},{"x":-0.266,"y":0.359,"u":39},{"x":-0.234,"y":0.359,"u":39},{"x":-0.203,"y":0.359,"u":39},{"x":-0.172,"y":0.359,"u":39},{"x":-0.141,"y":0.359,"u":39},{"x":-0.109,"y":0.359,"u":39},{"x":-0.078,"y":0.359,"u":39},{"x":-0.047,"y":0.359,"u":39},{"x":-0.016,"y":0.359,"u":39},{"x":0.016,"y":0.359,"u":39},{"x":0.047,"y":0.359,"u":39},{"x":0.078,"y":0.359,"u":39},{"x":0.109,"y":0.359,"u":39},{"x":0.141,"y":0.359,"u":39},{"x":0.172,"y":0.359,"u":39},{"x":0.203,"y":0.359,"u":39},{"x":0.234,"y":0.359,"u":39},{"x":0.266,"y":0.359,"u":39},{"x":0.297,"y":0.359,"u":39},{"x":0.328,"y":0.359,"u":39},{"x":0.359,"y":0.359,"u":39},{"x":0.391,"y":0.359,"u":39},{"x":0.422,"y":0.359,"u":39},{"x":0.453,"y":0.359,"u":39},{"x":0.484,"y":0.359,"u":39},
{"x":-0.484,"y":0.391,"u":32},{"x":-0.453,"y":0.391,"u":32},{"x":-0.422,"y":0.391,"u":32},{"x":-0.391,"y":0.391,"u":32},{"x":-0.359,"y":0.391,"u":32},{"x":-0.328,"y":0.391,"u":32},{"x":-0.297,"y":0.391,"u":32},{"x":-0.266,"y":0.391,"u":32},{"x":-0.234,"y":0.391,"u":32},{"x":-0.203,"y":0.391,"u":32},{"x":-0.172,"y":0.391,"u":32},{"x":-0.141,"y":0.391,"u":32},{"x":-0.109,"y":0.391,"u":32},{"x":-0.078,"y":0.391,"u":32},{"x":-0.047,"y":0.391,"u":32},{"x":-0.016,"y":0.391,"u":32},{"x":0.016,"y":0.391,"u":32},{"x":0.047,"y":0.391,"u":32},{"x":0.078,"y":0.391,"u":32},{"x":0.109,"y":0.391,"u":32},{"x":0.141,"y":0.391,"u":32},{"x":0.172,"y":0.391,"u":32},{"x":0.203,"y":0.391,"u":32},{"x":0.234,"y":0.391,"u":32},{"x":0.266,"y":0.391,"u":32},{"x":0.297,"y":0.391,"u":32},{"x":0.328,"y":0.391,"u":32},{"x":0.359,"y":0.391,"u":32},{"x":0.391,"y":0.391,"u":32},{"x":0.422,"y":0.391,"u":32},{"x":0.453,"y":0.391,"u":32},{"x":0.484,"y":0.391,"u":32},
{"x":-0.484,"y":0.422,"u":23},{"x":-0.453,"y":0.422,"u":23},{"x":-0.422,"y":0.422,"u":23},{"x":-0.391,"y":0.422,"u":23},{"x":-0.359,"y":0.422,"u":23},{"x":-0.328,"y":0.422,"u":23},{"x":-0.297,"y":0.422,"u":23},{"x":-0.266,"y":0.422,"u":23},{"x":-0.234,"y":0.422,"u":23},{"x":-0.203,"y":0.422,"u":23},{"x":-0.172,"y":0.422,"u":23},{"x":-0.141,"y":0.422,"u":23},{"x":-0.109,"y":0.422,"u":23},{"x":-0.078,"y":0.422,"u":23},{"x":-0.047,"y":0.422,"u":23},{"x":-0.016,"y":0.422,"u":23},{"x":0.016,"y":0.422,"u":23},{"x":0.047,"y":0.422,"u":23},{"x":0.078,"y":0.422,"u":23},{"x":0.109,"y":0.422,"u":23},{"x":0.141,"y":0.422,"u":23},{"x":0.172,"y":0.422,"u":23},{"x":0.203,"y":0.422,"u":23},{"x":0.234,"y":0.422,"u":23},{"x":0.266,"y":0.422,"u":23},{"x":0.297,"y":0.422,"u":23},{"x":0.328,"y":0.422,"u":23},{"x":0.359,"y":0.422,"u":23},{"x":0.391,"y":0.422,"u":23},{"x":0.422,"y":0.422,"u":23},{"x":0.453,"y":0.422,"u":23},{"x":0.484,"y":0.422,"u":23},
{"x":-0.484,"y":0.453,"u":14},{"x":-0.453,"y":0.453,"u":14},{"x":-0.422,"y":0.453,"u":14},{"x":-0.391,"y":0.453,"u":14},{"x":-0.359,"y":0.453,"u":14},{"x":-0.328,"y":0.453,"u":14},{"x":-0.297,"y":0.453,"u":14},{"x":-0.266,"y":0.453,"u":14},{"x":-0.234,"y":0.453,"u":14},{"x":-0.203,"y":0.453,"u":14},{"x":-0.172,"y":0.453,"u":14},{"x":-0.141,"y":0.453,"u":14},{"x":-0.109,"y":0.453,"u":14},{"x":-0.078,"y":0.453,"u":14},{"x":-0.047,"y":0.453,"u":14},{"x":-0.016,"y":0.453,"u":14},{"x":0.016,"y":0.453,"u":14},{"x":0.047,"y":0.453,"u":14},{"x":0.078,"y":0.453,"u":14},{"x":0.109,"y":0.453,"u":14},{"x":0.141,"y":0.453,"u":14},{"x":0.172,"y":0.453,"u":14},{"x":0.203,"y":0.453,"u":14},{"x":0.234,"y":0.453,"u":14},{"x":0.266,"y":0.453,"u":14},{"x":0.297,"y":0.453,"u":14},{"x":0.328,"y":0.453,"u":14},{"x":0.359,"y":0.453,"u":14},{"x":0.391,"y":0.453,"u":14},{"x":0.422,"y":0.453,"u":14},{"x":0.453,"y":0.453,"u":14},{"x":0.484,"y":0.453,"u":14},
{"x":-0.484,"y":0.484,"u":5},{"x":-0.453,"y":0.484,"u":5},{"x":-0.422,"y":0.484,"u":5},{"x":-0.391,"y":0.484,"u":5},{"x":-0.359,"y":0.484,"u":5},{"x":-0.328,"y":0.484,"u":5},{"x":-0.297,"y":0.484,"u":5},{"x":-0.266,"y":0.484,"u":5},{"x":-0.234,"y":0.484,"u":5},{"x":-0.203,"y":0.484,"u":5},{"x":-0.172,"y":0.484,"u":5},{"x":-0.141,"y":0.484,"u":5},{"x":-0.109,"y":0.484,"u":5},{"x":-0.078,"y":0.484,"u":5},{"x":-0.047,"y":0.484,"u":5},{"x":-0.016,"y":0.484,"u":5},{"x":0.016,"y":0.484,"u":5},{"x":0.047,"y":0.484,"u":5},{"x":0.078,"y":0.484,"u":5},{"x":0.109,"y":0.484,"u":5},{"x":0.141,"y":0.484,"u":5},{"x":0.172,"y":0.484,"u":5},{"x":0.203,"y":0.484,"u":5},{"x":0.234,"y":0.484,"u":5},{"x":0.266,"y":0.484,"u":5},{"x":0.297,"y":0.484,"u":5},{"x":0.328,"y":0.484,"u":5},{"x":0.359,"y":0.484,"u":5},{"x":0.391,"y":0.484,"u":5},{"x":0.422,"y":0.484,"u":5},{"x":0.453,"y":0.484,"u":5},{"x":0.484,"y":0.484,"u":5}],
"lamb":[
{"x":-0.484,"y":-0.484,"a":315,"m":41},{"x":-0.453,"y":-0.484,"a":317,"m":42},{"x":-0.422,"y":-0.484,"a":319,"m":44},{"x":-0.391,"y":-0.484,"a":321,"m":45},{"x":-0.359,"y":-0.484,"a":323,"m":46},{"x":-0.328,"y":-0.484,"a":326,"m":48},{"x":-0.297,"y":-0.484,"a":329,"m":49},{"x":-0.266,"y":-0.484,"a":331,"m":51},{"x":-0.234,"y":-0.484,"a":334,"m":52},{"x":-0.203,"y":-0.484,"a":337,"m":53},{"x":-0.172,"y":-0.484,"a":340,"m":54},{"x":-0.141,"y":-0.484,"a":344,"m":56},{"x":-0.109,"y":-0.484,"a":347,"m":56},{"x":-0.078,"y":-0.484,"a":351,"m":57},{"x":-0.047,"y":-0.484,"a":354,"m":58},{"x":-0.016,"y":-0.484,"a":358,"m":58},{"x":0.016,"y":-0.484,"a":2,"m":58},{"x":0.047,"y":-0.484,"a":6,"m":58},{"x":0.078,"y":-0.484,"a":9,"m":57},{"x":0.109,"y":-0.484,"a":13,"m":56},{"x":0.141,"y":-0.484,"a":16,"m":56},{"x":0.172,"y":-0.484,"a":20,"m":54},{"x":0.203,"y":-0.484,"a":23,"m":53},{"x":0.234,"y":-0.484,"a":26,"m":52},{"x":0.266,"y":-0.484,"a":29,"m":51},{"x":0.297,"y":-0.484,"a":31,"m":49},{"x":0.328,"y":-0.484,"a":34,"m":48},{"x":0.359,"y":-0.484,"a":37,"m":46},{"x":0.391,"y":-0.484,"a":39,"m":45},{"x":0.422,"y":-0.484,"a":41,"m":44},{"x":0.453,"y":-0.484,"a":43,"m":42},{"x":0.484,"y":-0.484,"a":45,"m":41},
{"x":-0.484,"y":-0.453,"a":313,"m":42},{"x":-0.453,"y":-0.453,"a":315,"m":44},{"x":-0.422,"y":-0.453,"a":317,"m":45},{"x":-0.391,"y":-0.453,"a":319,"m":47},{"x":-0.359,"y":-0.453,"a":322,"m":48},{"x":-0.328,"y":-0.453,"a":324,"m":50},{"x":-0.297,"y":-0.453,"a":327,"m":52},{"x":-0.266,"y":-0.453,"a":330,"m":53},{"x":-0.234,"y":-0.453,"a":333,"m":55},{"x":-0.203,"y":-0.453,"a":336,"m":56},{"x":-0.172,"y":-0.453,"a":339,"m":58},{"x":-0.141,"y":-0.453,"a":343,"m":59},{"x":-0.109,"y":-0.453,"a":346,"m":60},{"x":-0.078,"y":-0.453,"a":350,"m":61},{"x":-0.047,"y":-0.453,"a":354,"m":61},{"x":-0.016,"y":-0.453,"a":358,"m":62},{"x":0.016,"y":-0.453,"a":2,"m":62},{"x":0.047,"y":-0.453,"a":6,"m":61},{"x":0.078,"y":-0.453,"a":10,"m":61},{"x":0.109,"y":-0.453,"a":14,"m":60},{"x":0.141,"y":-0.453,"a":17,"m":59},{"x":0.172,"y":-0.453,"a":21,"m":58},{"x":0.203,"y":-0.453,"a":24,"m":56},{"x":0.234,"y":-0.453,"a":27,"m":55},{"x":0.266,"y":-0.453,"a":30,"m":53},{"x":0.297,"y":-0.453,"a":33,"m":52},{"x":0.328,"y":-0.453,"a":36,"m":50},{"x":0.359,"y":-0.453,"a":38,"m":48},{"x":0.391,"y":-0.453,"a":41,"m":47},{"x":0.422,"y":-0.453,"a":43,"m":45},{"x":0.453,"y":-0.453,"a":45,"m":44},{"x":0.484,"y":-0.453,"a":47,"m":42},
{"x":-0.484,"y":-0.422,"a":311,"m":44},{"x":-0.453,"y":-0.422,"a":313,"m":45},{"x":-0.422,"y":-0.422,"a":315,"m":47},{"x":-0.391,"y":-0.422,"a":317,"m":49},{"x":-0.359,"y":-0.422,"a":320,"m":51},{"x":-0.328,"y":-0.422,"a":322,"m":52},{"x":-0.297,"y":-0.422,"a":325,"m":54},{"x":-0.266,"y":-0.422,"a":328,"m":56},{"x":-0.234,"y":-0.422,"a":331,"m":58},{"x":-0.203,"y":-0.422,"a":334,"m":60},{"x":-0.172,"y":-0.422,"a":338,"m":61},{"x":-0.141,"y":-0.422,"a":342,"m":63},{"x":-0.109,"y":-0.422,"a":345,"m":64},{"x":-0.078,"y":-0.422,"a":350,"m":65},{"x":-0.047,"y":-0.422,"a":354,"m":66},{"x":-0.016,"y":-0.422,"a":358,"m":66},{"x":0.016,"y":-0.422,"a":2,"m":66},{"x":0.047,"y":-0.422,"a":6,"m":66},{"x":0.078,"y":-0.422,"a":10,"m":65},{"x":0.109,"y":-0.422,"a":15,"m":64},{"x":0.141,"y":-0.422,"a":18,"m":63},{"x":0.172,"y":-0.422,"a":22,"m":61},{"x":0.203,"y":-0.422,"a":26,"m":60},{"x":0.234,"y":-0.422,"a":29,"m":58},{"x":0.266,"y":-0.422,"a":32,"m":56},{"x":0.297,"y":-0.422,"a":35,"m":54},{"x":0.328,"y":-0.422,"a":38,"m":52},{"x":0.359,"y":-0.422,"a":40,"m":51},{"x":0.391,"y":-0.422,"a":43,"m":49},{"x":0.422,"y":-0.422,"a":45,"m":47},{"x":0.453,"y":-0.422,"a":47,"m":45},{"x":0.484,"y":-0.422,"a":49,"m":44},
{"x":-0.484,"y":-0.391,"a":309,"m":45},{"x":-0.453,"y":-0.391,"a":311,"m":47},{"x":-0.422,"y":-0.391,"a":313,"m":49},{"x":-0.391,"y":-0.391,"a":315,"m":51},{"x":-0.359,"y":-0.391,"a":317,"m":53},{"x":-0.328,"y":-0.391,"a":320,"m":55},{"x":-0.297,"y":-0.391,"a":323,"m":57},{"x":-0.266,"y":-0.391,"a":326,"m":59},{"x":-0.234,"y":-0.391,"a":329,"m":61},{"x":-0.203,"y":-0.391,"a":333,"m":63},{"x":-0.172,"y":-0.391,"a":336,"m":65},{"x":-0.141,"y":-0.391,"a":340,"m":67},{"x":-0.109,"y":-0.391,"a":344,"m":69},{"x":-0.078,"y":-0.391,"a":349,"m":70},{"x":-0.047,"y":-0.391,"a":353,"m":71},{"x":-0.016,"y":-0.391,"a":358,"m":71},{"x":0.016,"y":-0.391,"a":2,"m":71},{"x":0.047,"y":-0.391,"a":7,"m":71},{"x":0.078,"y":-0.391,"a":11,"m":70},{"x":0.109,"y":-0.391,"a":16,"m":69},{"x":0.141,"y":-0.391,"a":20,"m":67},{"x":0.172,"y":-0.391,"a":24,"m":65},{"x":0.203,"y":-0.391,"a":27,"m":63},{"x":0.234,"y":-0.391,"a":31,"m":61},{"x":0.266,"y":-0.391,"a":34,"m":59},{"x":0.297,"y":-0.391,"a":37,"m":57},{"x":0.328,"y":-0.391,"a":40,"m":55},{"x":0.359,"y":-0.391,"a":43,"m":53},{"x":0.391,"y":-0.391,"a":45,"m":51},{"x":0.422,"y":-0.391,"a":47,"m":49},{"x":0.453,"y":-0.391,"a":49,"m":47},{"x":0.484,"y":-0.391,"a":51,"m":45},
{"x":-0.484,"y":-0.359,"a":307,"m":46},{"x":-0.453,"y":-0.359,"a":308,"m":48},{"x":-0.422,"y":-0.359,"a":310,"m":51},{"x":-0.391,"y":-0.359,"a":313,"m":53},{"x":-0.359,"y":-0.359,"a":315,"m":55},{"x":-0.328,"y":-0.359,"a":318,"m":58},{"x":-0.297,"y":-0.359,"a":320,"m":60},{"x":-0.266,"y":-0.359,"a":324,"m":63},{"x":-0.234,"y":-0.359,"a":327,"m":65},{"x":-0.203,"y":-0.359,"a":331,"m":67},{"x":-0.172,"y":-0.359,"a":334,"m":70},{"x":-0.141,"y":-0.359,"a":339,"m":72},{"x":-0.109,"y":-0.359,"a":343,"m":74},{"x":-0.078,"y":-0.359,"a":348,"m":75},{"x":-0.047,"y":-0.359,"a":353,"m":76},{"x":-0.016,"y":-0.359,"a":358,"m":76},{"x":0.016,"y":-0.359,"a":2,"m":76},{"x":0.047,"y":-0.359,"a":7,"m":76},{"x":0.078,"y":-0.359,"a":12,"m":75},{"x":0.109,"y":-0.359,"a":17,"m":74},{"x":0.141,"y":-0.359,"a":21,"m":72},{"x":0.172,"y":-0.359,"a":26,"m":70},{"x":0.203,"y":-0.359,"a":29,"m":67},{"x":0.234,"y":-0.359,"a":33,"m":65},{"x":0.266,"y":-0.359,"a":36,"m":63},{"x":0.297,"y":-0.359,"a":40,"m":60},{"x":0.328,"y":-0.359,"a":42,"m":58},{"x":0.359,"y":-0.359,"a":45,"m":55},{"x":0.391,"y":-0.359,"a":47,"m":53},{"x":0.422,"y":-0.359,"a":50,"m":51},{"x":0.453,"y":-0.359,"a":52,"m":48},{"x":0.484,"y":-0.359,"a":53,"m":46},
{"x":-0.484,"y":-0.328,"a":304,"m":48},{"x":-0.453,"y":-0.328,"a":306,"m":50},{"x":-0.422,"y":-0.328,"a":308,"m":52},{"x":-0.391,"y":-0.328,"a":310,"m":55},{"x":-0.359,"y":-0.328,"a":312,"m":58},{"x":-0.328,"y":-0.328,"a":315,"m":60},{"x":-0.297,"y":-0.328,"a":318,"m":63},{"x":-0.266,"y":-0.328,"a":321,"m":66},{"x":-0.234,"y":-0.328,"a":324,"m":69},{"x":-0.203,"y":-0.328,"a":328,"m":72},{"x":-0.172,"y":-0.328,"a":332,"m":74},{"x":-0.141,"y":-0.328,"a":337,"m":77},{"x":-0.109,"y":-0.328,"a":342,"m":79},{"x":-0.078,"y":-0.328,"a":347,"m":81},{"x":-0.047,"y":-0.328,"a":352,"m":82},{"x":-0.016,"y":-0.328,"a":357,"m":82},{"x":0.016,"y":-0.328,"a":3,"m":82},{"x":0.047,"y":-0.328,"a":8,"m":82},{"x":0.078,"y":-0.328,"a":13,"m":81},{"x":0.109,"y":-0.328,"a":18,"m":79},{"x":0.141,"y":-0.328,"a":23,"m":77},{"x":0.172,"y":-0.328,"a":28,"m":74},{"x":0.203,"y":-0.328,"a":32,"m":72},{"x":0.234,"y":-0.328,"a":36,"m":69},{"x":0.266,"y":-0.328,"a":39,"m":66},{"x":0.297,"y":-0.328,"a":42,"m":63},{"x":0.328,"y":-0.328,"a":45,"m":60},{"x":0.359,"y":-0.328,"a":48,"m":58},{"x":0.391,"y":-0.328,"a":50,"m":55},{"x":0.422,"y":-0.328,"a":52,"m":52},{"x":0.453,"y":-0.328,"a":54,"m":50},{"x":0.484,"y":-0.328,"a":56,"m":48},
{"x":-0.484,"y":-0.297,"a":301,"m":49},{"x":-0.453,"y":-0.297,"a":303,"m":52},{"x":-0.422,"y":-0.297,"a":305,"m":54},{"x":-0.391,"y":-0.297,"a":307,"m":57},{"x":-0.359,"y":-0.297,"a":310,"m":60},{"x":-0.328,"y":-0.297,"a":312,"m":63},{"x":-0.297,"y":-0.297,"a":315,"m":66},{"x":-0.266,"y":-0.297,"a":318,"m":70},{"x":-0.234,"y":-0.297,"a":322,"m":73},{"x":-0.203,"y":-0.297,"a":326,"m":76},{"x":-0.172,"y":-0.297,"a":330,"m":79},{"x":-0.141,"y":-0.297,"a":335,"m":82},{"x":-0.109,"y":-0.297,"a":340,"m":84},{"x":-0.078,"y":-0.297,"a":345,"m":86},{"x":-0.047,"y":-0.297,"a":351,"m":87},{"x":-0.016,"y":-0.297,"a":357,"m":88},{"x":0.016,"y":-0.297,"a":3,"m":88},{"x":0.047,"y":-0.297,"a":9,"m":87},{"x":0.078,"y":-0.297,"a":15,"m":86},{"x":0.109,"y":-0.297,"a":20,"m":84},{"x":0.141,"y":-0.297,"a":25,"m":82},{"x":0.172,"y":-0.297,"a":30,"m":79},{"x":0.203,"y":-0.297,"a":34,"m":76},{"x":0.234,"y":-0.297,"a":38,"m":73},{"x":0.266,"y":-0.297,"a":42,"m":70},{"x":0.297,"y":-0.297,"a":45,"m":66},{"x":0.328,"y":-0.297,"a":48,"m":63},{"x":0.359,"y":-0.297,"a":50,"m":60},{"x":0.391,"y":-0.297,"a":53,"m":57},{"x":0.422,"y":-0.297,"a":55,"m":54},{"x":0.453,"y":-0.297,"a":57,"m":52},{"x":0.484,"y":-0.297,"a":59,"m":49},
{"x":-0.484,"y":-0.266,"a":299,"m":51},{"x":-0.453,"y":-0.266,"a":300,"m":53},{"x":-0.422,"y":-0.266,"a":302,"m":56},{"x":-0.391,"y":-0.266,"a":304,"m":59},{"x":-0.359,"y":-0.266,"a":306,"m":63},{"x":-0.328,"y":-0.266,"a":309,"m":66},{"x":-0.297,"y":-0.266,"a":312,"m":70},{"x":-0.266,"y":-0.266,"a":315,"m":74},{"x":-0.234,"y":-0.266,"a":319,"m":77},{"x":-0.203,"y":-0.266,"a":323,"m":81},{"x":-0.172,"y":-0.266,"a":327,"m":84},{"x":-0.141,"y":-0.266,"a":332,"m":87},{"x":-0.109,"y":-0.266,"a":338,"m":90},{"x":-0.078,"y":-0.266,"a":344,"m":92},{"x":-0.047,"y":-0.266,"a":350,"m":93},{"x":-0.016,"y":-0.266,"a":357,"m":93},{"x":0.016,"y":-0.266,"a":3,"m":93},{"x":0.047,"y":-0.266,"a":10,"m":93},{"x":0.078,"y":-0.266,"a":16,"m":92},{"x":0.109,"y":-0.266,"a":22,"m":90},{"x":0.141,"y":-0.266,"a":28,"m":87},{"x":0.172,"y":-0.266,"a":33,"m":84},{"x":0.203,"y":-0.266,"a":37,"m":81},{"x":0.234,"y":-0.266,"a":41,"m":77},{"x":0.266,"y":-0.266,"a":45,"m":74},{"x":0.297,"y":-0.266,"a":48,"m":70},{"x":0.328,"y":-0.266,"a":51,"m":66},{"x":0.359,"y":-0.266,"a":54,"m":63},{"x":0.391,"y":-0.266,"a":56,"m":59},{"x":0.422,"y":-0.266,"a":58,"m":56},{"x":0.453,"y":-0.266,"a":60,"m":53},{"x":0.484,"y":-0.266,"a":61,"m":51},
{"x":-0.484,"y":-0.234,"a":296,"m":52},{"x":-0.453,"y":-0.234,"a":297,"m":55},{"x":-0.422,"y":-0.234,"a":299,"m":58},{"x":-0.391,"y":-0.234,"a":301,"m":61},{"x":-0.359,"y":-0.234,"a":303,"m":65},{"x":-0.328,"y":-0.234,"a":306,"m":69},{"x":-0.297,"y":-0.234,"a":308,"m":73},{"x":-0.266,"y":-0.234,"a":311,"m":77},{"x":-0.234,"y":-0.234,"a":315,"m":82},{"x":-0.203,"y":-0.234,"a":319,"m":86},{"x":-0.172,"y":-0.234,"a":324,"m":89},{"x":-0.141,"y":-0.234,"a":329,"m":92},{"x":-0.109,"y":-0.234,"a":335,"m":95},{"x":-0.078,"y":-0.234,"a":342,"m":96},{"x":-0.047,"y":-0.234,"a":349,"m":97},{"x":-0.016,"y":-0.234,"a":356,"m":97},{"x":0.016,"y":-0.234,"a":4,"m":97},{"x":0.047,"y":-0.234,"a":11,"m":97},{"x":0.078,"y":-0.234,"a":18,"m":96},{"x":0.109,"y":-0.234,"a":25,"m":95},{"x":0.141,"y":-0.234,"a":31,"m":92},{"x":0.172,"y":-0.234,"a":36,"m":89},{"x":0.203,"y":-0.234,"a":41,"m":86},{"x":0.234,"y":-0.234,"a":45,"m":82},{"x":0.266,"y":-0.234,"a":49,"m":77},{"x":0.297,"y":-0.234,"a":52,"m":73},{"x":0.328,"y":-0.234,"a":54,"m":69},{"x":0.359,"y":-0.234,"a":57,"m":65},{"x":0.391,"y":-0.234,"a":59,"m":61},{"x":0.422,"y":-0.234,"a":61,"m":58},{"x":0.453,"y":-0.234,"a":63,"m":55},{"x":0.484,"y":-0.234,"a":64,"m":52},
{"x":-0.484,"y":-0.203,"a":293,"m":53},{"x":-0.453,"y":-0.203,"a":294,"m":56},{"x":-0.422,"y":-0.203,"a":296,"m":60},{"x":-0.391,"y":-0.203,"a":297,"m":63},{"x":-0.359,"y":-0.203,"a":299,"m":67},{"x":-0.328,"y":-0.203,"a":302,"m":72},{"x":-0.297,"y":-0.203,"a":304,"m":76},{"x":-0.266,"y":-0.203,"a":307,"m":81},{"x":-0.234,"y":-0.203,"a":311,"m":86},{"x":-0.203,"y":-0.203,"a":315,"m":90},{"x":-0.172,"y":-0.203,"a":320,"m":93},{"x":-0.141,"y":-0.203,"a":325,"m":96},{"x":-0.109,"y":-0.203,"a":332,"m":98},{"x":-0.078,"y":-0.203,"a":339,"m":99},{"x":-0.047,"y":-0.203,"a":347,"m":99},{"x":-0.016,"y":-0.203,"a":356,"m":99},{"x":0.016,"y":-0.203,"a":4,"m":99},{"x":0.047,"y":-0.203,"a":13,"m":99},{"x":0.078,"y":-0.203,"a":21,"m":99},{"x":0.109,"y":-0.203,"a":28,"m":98},{"x":0.141,"y":-0.203,"a":35,"m":96},{"x":0.172,"y":-0.203,"a":40,"m":93},{"x":0.203,"y":-0.203,"a":45,"m":90},{"x":0.234,"y":-0.203,"a":49,"m":86},{"x":0.266,"y":-0.203,"a":53,"m":81},{"x":0.297,"y":-0.203,"a":56,"m":76},{"x":0.328,"y":-0.203,"a":58,"m":72},{"x":0.359,"y":-0.203,"a":61,"m":67},{"x":0.391,"y":-0.203,"a":63,"m":63},{"x":0.422,"y":-0.203,"a":64,"m":60},{"x":0.453,"y":-0.203,"a":66,"m":56},{"x":0.484,"y":-0.203,"a":67,"m":53},
{"x":-0.484,"y":-0.172,"a":290,"m":54},{"x":-0.453,"y":-0.172,"a":291,"m":58},{"x":-0.422,"y":-0.172,"a":292,"m":61},{"x":-0.391,"y":-0.172,"a":294,"m":65},{"x":-0.359,"y":-0.172,"a":296,"m":70},{"x":-0.328,"y":-0.172,"a":298,"m":74},{"x":-0.297,"y":-0.172,"a":300,"m":79},{"x":-0.266,"y":-0.172,"a":303,"m":84},{"x":-0.234,"y":-0.172,"a":306,"m":89},{"x":-0.203,"y":-0.172,"a":310,"m":93},{"x":-0.172,"y":-0.172,"a":315,"m":97},{"x":-0.141,"y":-0.172,"a":321,"m":99},{"x":-0.109,"y":-0.172,"a":328,"m":99},{"x":-0.078,"y":-0.172,"a":336,"m":99},{"x":-0.047,"y":-0.172,"a":345,"m":98},{"x":-0.016,"y":-0.172,"a":355,"m":98},{"x":0.016,"y":-0.172,"a":5,"m":98},{"x":0.047,"y":-0.172,"a":15,"m":98},{"x":0.078,"y":-0.172,"a":24,"m":99},{"x":0.109,"y":-0.172,"a":32,"m":99},{"x":0.141,"y":-0.172,"a":39,"m":99},{"x":0.172,"y":-0.172,"a":45,"m":97},{"x":0.203,"y":-0.172,"a":50,"m":93},{"x":0.234,"y":-0.172,"a":54,"m":89},{"x":0.266,"y":-0.172,"a":57,"m":84},{"x":0.297,"y":-0.172,"a":60,"m":79},{"x":0.328,"y":-0.172,"a":62,"m":74},{"x":0.359,"y":-0.172,"a":64,"m":70},{"x":0.391,"y":-0.172,"a":66,"m":65},{"x":0.422,"y":-0.172,"a":68,"m":61},{"x":0.453,"y":-0.172,"a":69,"m":58},{"x":0.484,"y":-0.172,"a":70,"m":54},
{"x":-0.484,"y":-0.141,"a":286,"m":56},{"x":-0.453,"y":-0.141,"a":287,"m":59},{"x":-0.422,"y":-0.141,"a":288,"m":63},{"x":-0.391,"y":-0.141,"a":290,"m":67},{"x":-0.359,"y":-0.141,"a":291,"m":72},{"x":-0.328,"y":-0.141,"a":293,"m":77},{"x":-0.297,"y":-0.141,"a":295,"m":82},{"x":-0.266,"y":-0.141,"a":298,"m":87},{"x":-0.234,"y":-0.141,"a":301,"m":92},{"x":-0.203,"y":-0.141,"a":305,"m":96},{"x":-0.172,"y":-0.141,"a":309,"m":99},{"x":-0.141,"y":-0.141,"a":315,"m":99},{"x":-0.109,"y":-0.141,"a":322,"m":98},{"x":-0.078,"y":-0.141,"a":331,"m":96},{"x":-0.047,"y":-0.141,"a":342,"m":93},{"x":-0.016,"y":-0.141,"a":354,"m":91},{"x":0.016,"y":-0.141,"a":6,"m":91},{"x":0.047,"y":-0.141,"a":18,"m":93},{"x":0.078,"y":-0.141,"a":29,"m":96},{"x":0.109,"y":-0.141,"a":38,"m":98},{"x":0.141,"y":-0.141,"a":45,"m":99},{"x":0.172,"y":-0.141,"a":51,"m":99},{"x":0.203,"y":-0.141,"a":55,"m":96},{"x":0.234,"y":-0.141,"a":59,"m":92},{"x":0.266,"y":-0.141,"a":62,"m":87},{"x":0.297,"y":-0.141,"a":65,"m":82},{"x":0.328,"y":-0.141,"a":67,"m":77},{"x":0.359,"y":-0.141,"a":69,"m":72},{"x":0.391,"y":-0.141,"a":70,"m":67},{"x":0.422,"y":-0.141,"a":72,"m":63},{"x":0.453,"y":-0.141,"a":73,"m":59},{"x":0.484,"y":-0.141,"a":74,"m":56},
{"x":-0.484,"y":-0.109,"a":283,"m":56},{"x":-0.453,"y":-0.109,"a":284,"m":60},{"x":-0.422,"y":-0.109,"a":285,"m":64},{"x":-0.391,"y":-0.109,"a":286,"m":69},{"x":-0.359,"y":-0.109,"a":287,"m":74},{"x":-0.328,"y":-0.109,"a":288,"m":79},{"x":-0.297,"y":-0.109,"a":290,"m":84},{"x":-0.266,"y":-0.109,"a":292,"m":90},{"x":-0.234,"y":-0.109,"a":295,"m":95},{"x":-0.203,"y":-0.109,"a":298,"m":98},{"x":-0.172,"y":-0.109,"a":302,"m":99},{"x":-0.141,"y":-0.109,"a":308,"m":98},{"x":-0.109,"y":-0.109,"a":315,"m":95},{"x":-0.078,"y":-0.109,"a":324,"m":89},{"x":-0.047,"y":-0.109,"a":337,"m":83},{"x":-0.016,"y":-0.109,"a":352,"m":80},{"x":0.016,"y":-0.109,"a":8,"m":80},{"x":0.047,"y":-0.109,"a":23,"m":83},{"x":0.078,"y":-0.109,"a":36,"m":89},{"x":0.109,"y":-0.109,"a":45,"m":95},{"x":0.141,"y":-0.109,"a":52,"m":98},{"x":0.172,"y":-0.109,"a":58,"m":99},{"x":0.203,"y":-0.109,"a":62,"m":98},{"x":0.234,"y":-0.109,"a":65,"m":95},{"x":0.266,"y":-0.109,"a":68,"m":90},{"x":0.297,"y":-0.109,"a":70,"m":84},{"x":0.328,"y":-0.109,"a":72,"m":79},{"x":0.359,"y":-0.109,"a":73,"m":74},{"x":0.391,"y":-0.109,"a":74,"m":69},{"x":0.422,"y":-0.109,"a":75,"m":64},{"x":0.453,"y":-0.109,"a":76,"m":60},{"x":0.484,"y":-0.109,"a":77,"m":56},
{"x":-0.484,"y":-0.078,"a":279,"m":57},{"x":-0.453,"y":-0.078,"a":280,"m":61},{"x":-0.422,"y":-0.078,"a":280,"m":65},{"x":-0.391,"y":-0.078,"a":281,"m":70},{"x":-0.359,"y":-0.078,"a":282,"m":75},{"x":-0.328,"y":-0.078,"a":283,"m":81},{"x":-0.297,"y":-0.078,"a":285,"m":86},{"x":-0.266,"y":-0.078,"a":286,"m":92},{"x":-0.234,"y":-0.078,"a":288,"m":96},{"x":-0.203,"y":-0.078,"a":291,"m":99},{"x":-0.172,"y":-0.078,"a":294,"m":99},{"x":-0.141,"y":-0.078,"a":299,"m":96},{"x":-0.109,"y":-0.078,"a":306,"m":89},{"x":-0.078,"y":-0.078,"a":315,"m":80},{"x":-0.047,"y":-0.078,"a":329,"m":69},{"x":-0.016,"y":-0.078,"a":349,"m":63},{"x":0.016,"y":-0.078,"a":11,"m":63},{"x":0.047,"y":-0.078,"a":31,"m":69},{"x":0.078,"y":-0.078,"a":45,"m":80},{"x":0.109,"y":-0.078,"a":54,"m":89},{"x":0.141,"y":-0.078,"a":61,"m":96},{"x":0.172,"y":-0.078,"a":66,"m":99},{"x":0.203,"y":-0.078,"a":69,"m":99},{"x":0.234,"y":-0.078,"a":72,"m":96},{"x":0.266,"y":-0.078,"a":74,"m":92},{"x":0.297,"y":-0.078,"a":75,"m":86},{"x":0.328,"y":-0.078,"a":77,"m":81},{"x":0.359,"y":-0.078,"a":78,"m":75},{"x":0.391,"y":-0.078,"a":79,"m":70},{"x":0.422,"y":-0.078,"a":80,"m":65},{"x":0.453,"y":-0.078,"a":80,"m":61},{"x":0.484,"y":-0.078,"a":81,"m":57},
{"x":-0.484,"y":-0.047,"a":276,"m":58},{"x":-0.453,"y":-0.047,"a":276,"m":61},{"x":-0.422,"y":-0.047,"a":276,"m":66},{"x":-0.391,"y":-0.047,"a":277,"m":71},{"x":-0.359,"y":-0.047,"a":277,"m":76},{"x":-0.328,"y":-0.047,"a":278,"m":82},{"x":-0.297,"y":-0.047,"a":279,"m":87},{"x":-0.266,"y":-0.047,"a":280,"m":93},{"x":-0.234,"y":-0.047,"a":281,"m":97},{"x":-0.203,"y":-0.047,"a":283,"m":99},{"x":-0.172,"y":-0.047,"a":285,"m":98},{"x":-0.141,"y":-0.047,"a":288,"m":93},{"x":-0.109,"y":-0.047,"a":293,"m":83},{"x":-0.078,"y":-0.047,"a":301,"m":69},{"x":-0.047,"y":-0.047,"a":315,"m":54},{"x":-0.016,"y":-0.047,"a":342,"m":41},{"x":0.016,"y":-0.047,"a":18,"m":41},{"x":0.047,"y":-0.047,"a":45,"m":54},{"x":0.078,"y":-0.047,"a":59,"m":69},{"x":0.109,"y":-0.047,"a":67,"m":83},{"x":0.141,"y":-0.047,"a":72,"m":93},{"x":0.172,"y":-0.047,"a":75,"m":98},{"x":0.203,"y":-0.047,"a":77,"m":99},{"x":0.234,"y":-0.047,"a":79,"m":97},{"x":0.266,"y":-0.047,"a":80,"m":93},{"x":0.297,"y":-0.047,"a":81,"m":87},{"x":0.328,"y":-0.047,"a":82,"m":82},{"x":0.359,"y":-0.047,"a":83,"m":76},{"x":0.391,"y":-0.047,"a":83,"m":71},{"x":0.422,"y":-0.047,"a":84,"m":66},{"x":0.453,"y":-0.047,"a":84,"m":61},{"x":0.484,"y":-0.047,"a":84,"m":58},
{"x":-0.484,"y":-0.016,"a":272,"m":58},{"x":-0.453,"y":-0.016,"a":272,"m":62},{"x":-0.422,"y":-0.016,"a":272,"m":66},{"x":-0.391,"y":-0.016,"a":272,"m":71},{"x":-0.359,"y":-0.016,"a":272,"m":76},{"x":-0.328,"y":-0.016,"a":273,"m":82},{"x":-0.297,"y":-0.016,"a":273,"m":88},{"x":-0.266,"y":-0.016,"a":273,"m":93},{"x":-0.234,"y":-0.016,"a":274,"m":97},{"x":-0.203,"y":-0.016,"a":274,"m":99},{"x":-0.172,"y":-0.016,"a":275,"m":98},{"x":-0.141,"y":-0.016,"a":276,"m":91},{"x":-0.109,"y":-0.016,"a":278,"m":80},{"x":-0.078,"y":-0.016,"a":281,"m":63},{"x":-0.047,"y":-0.016,"a":288,"m":41},{"x":-0.016,"y":-0.016,"a":315,"m":19},{"x":0.016,"y":-0.016,"a":45,"m":19},{"x":0.047,"y":-0.016,"a":72,"m":41},{"x":0.078,"y":-0.016,"a":79,"m":63},{"x":0.109,"y":-0.016,"a":82,"m":80},{"x":0.141,"y":-0.016,"a":84,"m":91},{"x":0.172,"y":-0.016,"a":85,"m":98},{"x":0.203,"y":-0.016,"a":86,"m":99},{"x":0.234,"y":-0.016,"a":86,"m":97},{"x":0.266,"y":-0.016,"a":87,"m":93},{"x":0.297,"y":-0.016,"a":87,"m":88},{"x":0.328,"y":-0.016,"a":87,"m":82},{"x":0.359,"y":-0.016,"a":88,"m":76},{"x":0.391,"y":-0.016,"a":88,"m":71},{"x":0.422,"y":-0.016,"a":88,"m":66},{"x":0.453,"y":-0.016,"a":88,"m":62},{"x":0.484,"y":-0.016,"a":88,"m":58},
{"x":-0.484,"y":0.016,"a":268,"m":58},{"x":-0.453,"y":0.016,"a":268,"m":62},{"x":-0.422,"y":0.016,"a":268,"m":66},{"x":-0.391,"y":0.016,"a":268,"m":71},{"x":-0.359,"y":0.016,"a":268,"m":76},{"x":-0.328,"y":0.016,"a":267,"m":82},{"x":-0.297,"y":0.016,"a":267,"m":88},{"x":-0.266,"y":0.016,"a":267,"m":93},{"x":-0.234,"y":0.016,"a":266,"m":97},{"x":-0.203,"y":0.016,"a":266,"m":99},{"x":-0.172,"y":0.016,"a":265,"m":98},{"x":-0.141,"y":0.016,"a":264,"m":91},{"x":-0.109,"y":0.016,"a":262,"m":80},{"x":-0.078,"y":0.016,"a":259,"m":63},{"x":-0.047,"y":0.016,"a":252,"m":41},{"x":-0.016,"y":0.016,"a":225,"m":19},{"x":0.016,"y":0.016,"a":135,"m":19},{"x":0.047,"y":0.016,"a":108,"m":41},{"x":0.078,"y":0.016,"a":101,"m":63},{"x":0.109,"y":0.016,"a":98,"m":80},{"x":0.141,"y":0.016,"a":96,"m":91},{"x":0.172,"y":0.016,"a":95,"m":98},{"x":0.203,"y":0.016,"a":94,"m":99},{"x":0.234,"y":0.016,"a":94,"m":97},{"x":0.266,"y":0.016,"a":93,"m":93},{"x":0.297,"y":0.016,"a":93,"m":88},{"x":0.328,"y":0.016,"a":93,"m":82},{"x":0.359,"y":0.016,"a":92,"m":76},{"x":0.391,"y":0.016,"a":92,"m":71},{"x":0.422,"y":0.016,"a":92,"m":66},{"x":0.453,"y":0.016,"a":92,"m":62},{"x":0.484,"y":0.016,"a":92,"m":58},
{"x":-0.484,"y":0.047,"a":264,"m":58},{"x":-0.453,"y":0.047,"a":264,"m":61},{"x":-0.422,"y":0.047,"a":264,"m":66},{"x":-0.391,"y":0.047,"a":263,"m":71},{"x":-0.359,"y":0.047,"a":263,"m":76},{"x":-0.328,"y":0.047,"a":262,"m":82},{"x":-0.297,"y":0.047,"a":261,"m":87},{"x":-0.266,"y":0.047,"a":260,"m":93},{"x":-0.234,"y":0.047,"a":259,"m":97},{"x":-0.203,"y":0.047,"a":257,"m":99},{"x":-0.172,"y":0.047,"a":255,"m":98},{"x":-0.141,"y":0.047,"a":252,"m":93},{"x":-0.109,"y":0.047,"a":247,"m":83},{"x":-0.078,"y":0.047,"a":239,"m":69},{"x":-0.047,"y":0.047,"a":225,"m":54},{"x":-0.016,"y":0.047,"a":198,"m":41},{"x":0.016,"y":0.047,"a":162,"m":41},{"x":0.047,"y":0.047,"a":135,"m":54},{"x":0.078,"y":0.047,"a":121,"m":69},{"x":0.109,"y":0.047,"a":113,"m":83},{"x":0.141,"y":0.047,"a":108,"m":93},{"x":0.172,"y":0.047,"a":105,"m":98},{"x":0.203,"y":0.047,"a":103,"m":99},{"x":0.234,"y":0.047,"a":101,"m":97},{"x":0.266,"y":0.047,"a":100,"m":93},{"x":0.297,"y":0.047,"a":99,"m":87},{"x":0.328,"y":0.047,"a":98,"m":82},{"x":0.359,"y":0.047,"a":97,"m":76},{"x":0.391,"y":0.047,"a":97,"m":71},{"x":0.422,"y":0.047,"a":96,"m":66},{"x":0.453,"y":0.047,"a":96,"m":61},{"x":0.484,"y":0.047,"a":96,"m":58},
{"x":-0.484,"y":0.078,"a":261,"m":57},{"x":-0.453,"y":0.078,"a":260,"m":61},{"x":-0.422,"y":0.078,"a":260,"m":65},{"x":-0.391,"y":0.078,"a":259,"m":70},{"x":-0.359,"y":0.078,"a":258,"m":75},{"x":-0.328,"y":0.078,"a":257,"m":81},{"x":-0.297,"y":0.078,"a":255,"m":86},{"x":-0.266,"y":0.078,"a":254,"m":92},{"x":-0.234,"y":0.078,"a":252,"m":96},{"x":-0.203,"y":0.078,"a":249,"m":99},{"x":-0.172,"y":0.078,"a":246,"m":99},{"x":-0.141,"y":0.078,"a":241,"m":96},{"x":-0.109,"y":0.078,"a":234,"m":89},{"x":-0.078,"y":0.078,"a":225,"m":80},{"x":-0.047,"y":0.078,"a":211,"m":69},{"x":-0.016,"y":0.078,"a":191,"m":63},{"x":0.016,"y":0.078,"a":169,"m":63},{"x":0.047,"y":0.078,"a":149,"m":69},{"x":0.078,"y":0.078,"a":135,"m":80},{"x":0.109,"y":0.078,"a":126,"m":89},{"x":0.141,"y":0.078,"a":119,"m":96},{"x":0.172,"y":0.078,"a":114,"m":99},{"x":0.203,"y":0.078,"a":111,"m":99},{"x":0.234,"y":0.078,"a":108,"m":96},{"x":0.266,"y":0.078,"a":106,"m":92},{"x":0.297,"y":0.078,"a":105,"m":86},{"x":0.328,"y":0.078,"a":103,"m":81},{"x":0.359,"y":0.078,"a":102,"m":75},{"x":0.391,"y":0.078,"a":101,"m":70},{"x":0.422,"y":0.078,"a":100,"m":65},{"x":0.453,"y":0.078,"a":100,"m":61},{"x":0.484,"y":0.078,"a":99,"m":57},
{"x":-0.484,"y":0.109,"a":257,"m":56},{"x":-0.453,"y":0.109,"a":256,"m":60},{"x":-0.422,"y":0.109,"a":255,"m":64},{"x":-0.391,"y":0.109,"a":254,"m":69},{"x":-0.359,"y":0.109,"a":253,"m":74},{"x":-0.328,"y":0.109,"a":252,"m":79},{"x":-0.297,"y":0.109,"a":250,"m":84},{"x":-0.266,"y":0.109,"a":248,"m":90},{"x":-0.234,"y":0.109,"a":245,"m":95},{"x":-0.203,"y":0.109,"a":242,"m":98},{"x":-0.172,"y":0.109,"a":238,"m":99},{"x":-0.141,"y":0.109,"a":232,"m":98},{"x":-0.109,"y":0.109,"a":225,"m":95},{"x":-0.078,"y":0.109,"a":216,"m":89},{"x":-0.047,"y":0.109,"a":203,"m":83},{"x":-0.016,"y":0.109,"a":188,"m":80},{"x":0.016,"y":0.109,"a":172,"m":80},{"x":0.047,"y":0.109,"a":157,"m":83},{"x":0.078,"y":0.109,"a":144,"m":89},{"x":0.109,"y":0.109,"a":135,"m":95},{"x":0.141,"y":0.109,"a":128,"m":98},{"x":0.172,"y":0.109,"a":122,"m":99},{"x":0.203,"y":0.109,"a":118,"m":98},{"x":0.234,"y":0.109,"a":115,"m":95},{"x":0.266,"y":0.109,"a":112,"m":90},{"x":0.297,"y":0.109,"a":110,"m":84},{"x":0.328,"y":0.109,"a":108,"m":79},{"x":0.359,"y":0.109,"a":107,"m":74},{"x":0.391,"y":0.109,"a":106,"m":69},{"x":0.422,"y":0.109,"a":105,"m":64},{"x":0.453,"y":0.109,"a":104,"m":60},{"x":0.484,"y":0.109,"a":103,"m":56},
{"x":-0.484,"y":0.141,"a":254,"m":56},{"x":-0.453,"y":0.141,"a":253,"m":59},{"x":-0.422,"y":0.141,"a":252,"m":63},{"x":-0.391,"y":0.141,"a":250,"m":67},{"x":-0.359,"y":0.141,"a":249,"m":72},{"x":-0.328,"y":0.141,"a":247,"m":77},{"x":-0.297,"y":0.141,"a":245,"m":82},{"x":-0.266,"y":0.141,"a":242,"m":87},{"x":-0.234,"y":0.141,"a":239,"m":92},{"x":-0.203,"y":0.141,"a":235,"m":96},{"x":-0.172,"y":0.141,"a":231,"m":99},{"x":-0.141,"y":0.141,"a":225,"m":99},{"x":-0.109,"y":0.141,"a":218,"m":98},{"x":-0.078,"y":0.141,"a":209,"m":96},{"x":-0.047,"y":0.141,"a":198,"m":93},{"x":-0.016,"y":0.141,"a":186,"m":91},{"x":0.016,"y":0.141,"a":174,"m":91},{"x":0.047,"y":0.141,"a":162,"m":93},{"x":0.078,"y":0.141,"a":151,"m":96},{"x":0.109,"y":0.141,"a":142,"m":98},{"x":0.141,"y":0.141,"a":135,"m":99},{"x":0.172,"y":0.141,"a":129,"m":99},{"x":0.203,"y":0.141,"a":125,"m":96},{"x":0.234,"y":0.141,"a":121,"m":92},{"x":0.266,"y":0.141,"a":118,"m":87},{"x":0.297,"y":0.141,"a":115,"m":82},{"x":0.328,"y":0.141,"a":113,"m":77},{"x":0.359,"y":0.141,"a":111,"m":72},{"x":0.391,"y":0.141,"a":110,"m":67},{"x":0.422,"y":0.141,"a":108,"m":63},{"x":0.453,"y":0.141,"a":107,"m":59},{"x":0.484,"y":0.141,"a":106,"m":56},
{"x":-0.484,"y":0.172,"a":250,"m":54},{"x":-0.453,"y":0.172,"a":249,"m":58},{"x":-0.422,"y":0.172,"a":248,"m":61},{"x":-0.391,"y":0.172,"a":246,"m":65},{"x":-0.359,"y":0.172,"a":244,"m":70},{"x":-0.328,"y":0.172,"a":242,"m":74},{"x":-0.297,"y":0.172,"a":240,"m":79},{"x":-0.266,"y":0.172,"a":237,"m":84},{"x":-0.234,"y":0.172,"a":234,"m":89},{"x":-0.203,"y":0.172,"a":230,"m":93},{"x":-0.172,"y":0.172,"a":225,"m":97},{"x":-0.141,"y":0.172,"a":219,"m":99},{"x":-0.109,"y":0.172,"a":212,"m":99},{"x":-0.078,"y":0.172,"a":204,"m":99},{"x":-0.047,"y":0.172,"a":195,"m":98},{"x":-0.016,"y":0.172,"a":185,"m":98},{"x":0.016,"y":0.172,"a":175,"m":98},{"x":0.047,"y":0.172,"a":165,"m":98},{"x":0.078,"y":0.172,"a":156,"m":99},{"x":0.109,"y":0.172,"a":148,"m":99},{"x":0.141,"y":0.172,"a":141,"m":99},{"x":0.172,"y":0.172,"a":135,"m":97},{"x":0.203,"y":0.172,"a":130,"m":93},{"x":0.234,"y":0.172,"a":126,"m":89},{"x":0.266,"y":0.172,"a":123,"m":84},{"x":0.297,"y":0.172,"a":120,"m":79},{"x":0.328,"y":0.172,"a":118,"m":74},{"x":0.359,"y":0.172,"a":116,"m":70},{"x":0.391,"y":0.172,"a":114,"m":65},{"x":0.422,"y":0.172,"a":112,"m":61},{"x":0.453,"y":0.172,"a":111,"m":58},{"x":0.484,"y":0.172,"a":110,"m":54},
{"x":-0.484,"y":0.203,"a":247,"m":53},{"x":-0.453,"y":0.203,"a":246,"m":56},{"x":-0.422,"y":0.203,"a":244,"m":60},{"x":-0.391,"y":0.203,"a":243,"m":63},{"x":-0.359,"y":0.203,"a":241,"m":67},{"x":-0.328,"y":0.203,"a":238,"m":72},{"x":-0.297,"y":0.203,"a":236,"m":76},{"x":-0.266,"y":0.203,"a":233,"m":81},{"x":-0.234,"y":0.203,"a":229,"m":86},{"x":-0.203,"y":0.203,"a":225,"m":90},{"x":-0.172,"y":0.203,"a":220,"m":93},{"x":-0.141,"y":0.203,"a":215,"m":96},{"x":-0.109,"y":0.203,"a":208,"m":98},{"x":-0.078,"y":0.203,"a":201,"m":99},{"x":-0.047,"y":0.203,"a":193,"m":99},{"x":-0.016,"y":0.203,"a":184,"m":99},{"x":0.016,"y":0.203,"a":176,"m":99},{"x":0.047,"y":0.203,"a":167,"m":99},{"x":0.078,"y":0.203,"a":159,"m":99},{"x":0.109,"y":0.203,"a":152,"m":98},{"x":0.141,"y":0.203,"a":145,"m":96},{"x":0.172,"y":0.203,"a":140,"m":93},{"x":0.203,"y":0.203,"a":135,"m":90},{"x":0.234,"y":0.203,"a":131,"m":86},{"x":0.266,"y":0.203,"a":127,"m":81},{"x":0.297,"y":0.203,"a":124,"m":76},{"x":0.328,"y":0.203,"a":122,"m":72},{"x":0.359,"y":0.203,"a":119,"m":67},{"x":0.391,"y":0.203,"a":117,"m":63},{"x":0.422,"y":0.203,"a":116,"m":60},{"x":0.453,"y":0.203,"a":114,"m":56},{"x":0.484,"y":0.203,"a":113,"m":53},
{"x":-0.484,"y":0.234,"a":244,"m":52},{"x":-0.453,"y":0.234,"a":243,"m":55},{"x":-0.422,"y":0.234,"a":241,"m":58},{"x":-0.391,"y":0.234,"a":239,"m":61},{"x":-0.359,"y":0.234,"a":237,"m":65},{"x":-0.328,"y":0.234,"a":234,"m":69},{"x":-0.297,"y":0.234,"a":232,"m":73},{"x":-0.266,"y":0.234,"a":229,"m":77},{"x":-0.234,"y":0.234,"a":225,"m":82},{"x":-0.203,"y":0.234,"a":221,"m":86},{"x":-0.172,"y":0.234,"a":216,"m":89},{"x":-0.141,"y":0.234,"a":211,"m":92},{"x":-0.109,"y":0.234,"a":205,"m":95},{"x":-0.078,"y":0.234,"a":198,"m":96},{"x":-0.047,"y":0.234,"a":191,"m":97},{"x":-0.016,"y":0.234,"a":184,"m":97},{"x":0.016,"y":0.234,"a":176,"m":97},{"x":0.047,"y":0.234,"a":169,"m":97},{"x":0.078,"y":0.234,"a":162,"m":96},{"x":0.109,"y":0.234,"a":155,"m":95},{"x":0.141,"y":0.234,"a":149,"m":92},{"x":0.172,"y":0.234,"a":144,"m":89},{"x":0.203,"y":0.234,"a":139,"m":86},{"x":0.234,"y":0.234,"a":135,"m":82},{"x":0.266,"y":0.234,"a":131,"m":77},{"x":0.297,"y":0.234,"a":128,"m":73},{"x":0.328,"y":0.234,"a":126,"m":69},{"x":0.359,"y":0.234,"a":123,"m":65},{"x":0.391,"y":0.234,"a":121,"m":61},{"x":0.422,"y":0.234,"a":119,"m":58},{"x":0.453,"y":0.234,"a":117,"m":55},{"x":0.484,"y":0.234,"a":116,"m":52},
{"x":-0.484,"y":0.266,"a":241,"m":51},{"x":-0.453,"y":0.266,"a":240,"m":53},{"x":-0.422,"y":0.266,"a":238,"m":56},{"x":-0.391,"y":0.266,"a":236,"m":59},{"x":-0.359,"y":0.266,"a":234,"m":63},{"x":-0.328,"y":0.266,"a":231,"m":66},{"x":-0.297,"y":0.266,"a":228,"m":70},{"x":-0.266,"y":0.266,"a":225,"m":74},{"x":-0.234,"y":0.266,"a":221,"m":77},{"x":-0.203,"y":0.266,"a":217,"m":81},{"x":-0.172,"y":0.266,"a":213,"m":84},{"x":-0.141,"y":0.266,"a":208,"m":87},{"x":-0.109,"y":0.266,"a":202,"m":90},{"x":-0.078,"y":0.266,"a":196,"m":92},{"x":-0.047,"y":0.266,"a":190,"m":93},{"x":-0.016,"y":0.266,"a":183,"m":93},{"x":0.016,"y":0.266,"a":177,"m":93},{"x":0.047,"y":0.266,"a":170,"m":93},{"x":0.078,"y":0.266,"a":164,"m":92},{"x":0.109,"y":0.266,"a":158,"m":90},{"x":0.141,"y":0.266,"a":152,"m":87},{"x":0.172,"y":0.266,"a":147,"m":84},{"x":0.203,"y":0.266,"a":143,"m":81},{"x":0.234,"y":0.266,"a":139,"m":77},{"x":0.266,"y":0.266,"a":135,"m":74},{"x":0.297,"y":0.266,"a":132,"m":70},{"x":0.328,"y":0.266,"a":129,"m":66},{"x":0.359,"y":0.266,"a":126,"m":63},{"x":0.391,"y":0.266,"a":124,"m":59},{"x":0.422,"y":0.266,"a":122,"m":56},{"x":0.453,"y":0.266,"a":120,"m":53},{"x":0.484,"y":0.266,"a":119,"m":51},
{"x":-0.484,"y":0.297,"a":239,"m":49},{"x":-0.453,"y":0.297,"a":237,"m":52},{"x":-0.422,"y":0.297,"a":235,"m":54},{"x":-0.391,"y":0.297,"a":233,"m":57},{"x":-0.359,"y":0.297,"a":230,"m":60},{"x":-0.328,"y":0.297,"a":228,"m":63},{"x":-0.297,"y":0.297,"a":225,"m":66},{"x":-0.266,"y":0.297,"a":222,"m":70},{"x":-0.234,"y":0.297,"a":218,"m":73},{"x":-0.203,"y":0.297,"a":214,"m":76},{"x":-0.172,"y":0.297,"a":210,"m":79},{"x":-0.141,"y":0.297,"a":205,"m":82},{"x":-0.109,"y":0.297,"a":200,"m":84},{"x":-0.078,"y":0.297,"a":195,"m":86},{"x":-0.047,"y":0.297,"a":189,"m":87},{"x":-0.016,"y":0.297,"a":183,"m":88},{"x":0.016,"y":0.297,"a":177,"m":88},{"x":0.047,"y":0.297,"a":171,"m":87},{"x":0.078,"y":0.297,"a":165,"m":86},{"x":0.109,"y":0.297,"a":160,"m":84},{"x":0.141,"y":0.297,"a":155,"m":82},{"x":0.172,"y":0.297,"a":150,"m":79},{"x":0.203,"y":0.297,"a":146,"m":76},{"x":0.234,"y":0.297,"a":142,"m":73},{"x":0.266,"y":0.297,"a":138,"m":70},{"x":0.297,"y":0.297,"a":135,"m":66},{"x":0.328,"y":0.297,"a":132,"m":63},{"x":0.359,"y":0.297,"a":130,"m":60},{"x":0.391,"y":0.297,"a":127,"m":57},{"x":0.422,"y":0.297,"a":125,"m":54},{"x":0.453,"y":0.297,"a":123,"m":52},{"x":0.484,"y":0.297,"a":121,"m":49},
{"x":-0.484,"y":0.328,"a":236,"m":48},{"x":-0.453,"y":0.328,"a":234,"m":50},{"x":-0.422,"y":0.328,"a":232,"m":52},{"x":-0.391,"y":0.328,"a":230,"m":55},{"x":-0.359,"y":0.328,"a":228,"m":58},{"x":-0.328,"y":0.328,"a":225,"m":60},{"x":-0.297,"y":0.328,"a":222,"m":63},{"x":-0.266,"y":0.328,"a":219,"m":66},{"x":-0.234,"y":0.328,"a":216,"m":69},{"x":-0.203,"y":0.328,"a":212,"m":72},{"x":-0.172,"y":0.328,"a":208,"m":74},{"x":-0.141,"y":0.328,"a":203,"m":77},{"x":-0.109,"y":0.328,"a":198,"m":79},{"x":-0.078,"y":0.328,"a":193,"m":81},{"x":-0.047,"y":0.328,"a":188,"m":82},{"x":-0.016,"y":0.328,"a":183,"m":82},{"x":0.016,"y":0.328,"a":177,"m":82},{"x":0.047,"y":0.328,"a":172,"m":82},{"x":0.078,"y":0.328,"a":167,"m":81},{"x":0.109,"y":0.328,"a":162,"m":79},{"x":0.141,"y":0.328,"a":157,"m":77},{"x":0.172,"y":0.328,"a":152,"m":74},{"x":0.203,"y":0.328,"a":148,"m":72},{"x":0.234,"y":0.328,"a":144,"m":69},{"x":0.266,"y":0.328,"a":141,"m":66},{"x":0.297,"y":0.328,"a":138,"m":63},{"x":0.328,"y":0.328,"a":135,"m":60},{"x":0.359,"y":0.328,"a":132,"m":58},{"x":0.391,"y":0.328,"a":130,"m":55},{"x":0.422,"y":0.328,"a":128,"m":52},{"x":0.453,"y":0.328,"a":126,"m":50},{"x":0.484,"y":0.328,"a":124,"m":48},
{"x":-0.484,"y":0.359,"a":233,"m":46},{"x":-0.453,"y":0.359,"a":232,"m":48},{"x":-0.422,"y":0.359,"a":230,"m":51},{"x":-0.391,"y":0.359,"a":227,"m":53},{"x":-0.359,"y":0.359,"a":225,"m":55},{"x":-0.328,"y":0.359,"a":222,"m":58},{"x":-0.297,"y":0.359,"a":220,"m":60},{"x":-0.266,"y":0.359,"a":216,"m":63},{"x":-0.234,"y":0.359,"a":213,"m":65},{"x":-0.203,"y":0.359,"a":209,"m":67},{"x":-0.172,"y":0.359,"a":206,"m":70},{"x":-0.141,"y":0.359,"a":201,"m":72},{"x":-0.109,"y":0.359,"a":197,"m":74},{"x":-0.078,"y":0.359,"a":192,"m":75},{"x":-0.047,"y":0.359,"a":187,"m":76},{"x":-0.016,"y":0.359,"a":182,"m":76},{"x":0.016,"y":0.359,"a":178,"m":76},{"x":0.047,"y":0.359,"a":173,"m":76},{"x":0.078,"y":0.359,"a":168,"m":75},{"x":0.109,"y":0.359,"a":163,"m":74},{"x":0.141,"y":0.359,"a":159,"m":72},{"x":0.172,"y":0.359,"a":154,"m":70},{"x":0.203,"y":0.359,"a":151,"m":67},{"x":0.234,"y":0.359,"a":147,"m":65},{"x":0.266,"y":0.359,"a":144,"m":63},{"x":0.297,"y":0.359,"a":140,"m":60},{"x":0.328,"y":0.359,"a":138,"m":58},{"x":0.359,"y":0.359,"a":135,"m":55},{"x":0.391,"y":0.359,"a":133,"m":53},{"x":0.422,"y":0.359,"a":130,"m":51},{"x":0.453,"y":0.359,"a":128,"m":48},{"x":0.484,"y":0.359,"a":127,"m":46},
{"x":-0.484,"y":0.391,"a":231,"m":45},{"x":-0.453,"y":0.391,"a":229,"m":47},{"x":-0.422,"y":0.391,"a":227,"m":49},{"x":-0.391,"y":0.391,"a":225,"m":51},{"x":-0.359,"y":0.391,"a":223,"m":53},{"x":-0.328,"y":0.391,"a":220,"m":55},{"x":-0.297,"y":0.391,"a":217,"m":57},{"x":-0.266,"y":0.391,"a":214,"m":59},{"x":-0.234,"y":0.391,"a":211,"m":61},{"x":-0.203,"y":0.391,"a":207,"m":63},{"x":-0.172,"y":0.391,"a":204,"m":65},{"x":-0.141,"y":0.391,"a":200,"m":67},{"x":-0.109,"y":0.391,"a":196,"m":69},{"x":-0.078,"y":0.391,"a":191,"m":70},{"x":-0.047,"y":0.391,"a":187,"m":71},{"x":-0.016,"y":0.391,"a":182,"m":71},{"x":0.016,"y":0.391,"a":178,"m":71},{"x":0.047,"y":0.391,"a":173,"m":71},{"x":0.078,"y":0.391,"a":169,"m":70},{"x":0.109,"y":0.391,"a":164,"m":69},{"x":0.141,"y":0.391,"a":160,"m":67},{"x":0.172,"y":0.391,"a":156,"m":65},{"x":0.203,"y":0.391,"a":153,"m":63},{"x":0.234,"y":0.391,"a":149,"m":61},{"x":0.266,"y":0.391,"a":146,"m":59},{"x":0.297,"y":0.391,"a":143,"m":57},{"x":0.328,"y":0.391,"a":140,"m":55},{"x":0.359,"y":0.391,"a":137,"m":53},{"x":0.391,"y":0.391,"a":135,"m":51},{"x":0.422,"y":0.391,"a":133,"m":49},{"x":0.453,"y":0.391,"a":131,"m":47},{"x":0.484,"y":0.391,"a":129,"m":45},
{"x":-0.484,"y":0.422,"a":229,"m":44},{"x":-0.453,"y":0.422,"a":227,"m":45},{"x":-0.422,"y":0.422,"a":225,"m":47},{"x":-0.391,"y":0.422,"a":223,"m":49},{"x":-0.359,"y":0.422,"a":220,"m":51},{"x":-0.328,"y":0.422,"a":218,"m":52},{"x":-0.297,"y":0.422,"a":215,"m":54},{"x":-0.266,"y":0.422,"a":212,"m":56},{"x":-0.234,"y":0.422,"a":209,"m":58},{"x":-0.203,"y":0.422,"a":206,"m":60},{"x":-0.172,"y":0.422,"a":202,"m":61},{"x":-0.141,"y":0.422,"a":198,"m":63},{"x":-0.109,"y":0.422,"a":195,"m":64},{"x":-0.078,"y":0.422,"a":190,"m":65},{"x":-0.047,"y":0.422,"a":186,"m":66},{"x":-0.016,"y":0.422,"a":182,"m":66},{"x":0.016,"y":0.422,"a":178,"m":66},{"x":0.047,"y":0.422,"a":174,"m":66},{"x":0.078,"y":0.422,"a":170,"m":65},{"x":0.109,"y":0.422,"a":165,"m":64},{"x":0.141,"y":0.422,"a":162,"m":63},{"x":0.172,"y":0.422,"a":158,"m":61},{"x":0.203,"y":0.422,"a":154,"m":60},{"x":0.234,"y":0.422,"a":151,"m":58},{"x":0.266,"y":0.422,"a":148,"m":56},{"x":0.297,"y":0.422,"a":145,"m":54},{"x":0.328,"y":0.422,"a":142,"m":52},{"x":0.359,"y":0.422,"a":140,"m":51},{"x":0.391,"y":0.422,"a":137,"m":49},{"x":0.422,"y":0.422,"a":135,"m":47},{"x":0.453,"y":0.422,"a":133,"m":45},{"x":0.484,"y":0.422,"a":131,"m":44},
{"x":-0.484,"y":0.453,"a":227,"m":42},{"x":-0.453,"y":0.453,"a":225,"m":44},{"x":-0.422,"y":0.453,"a":223,"m":45},{"x":-0.391,"y":0.453,"a":221,"m":47},{"x":-0.359,"y":0.453,"a":218,"m":48},{"x":-0.328,"y":0.453,"a":216,"m":50},{"x":-0.297,"y":0.453,"a":213,"m":52},{"x":-0.266,"y":0.453,"a":210,"m":53},{"x":-0.234,"y":0.453,"a":207,"m":55},{"x":-0.203,"y":0.453,"a":204,"m":56},{"x":-0.172,"y":0.453,"a":201,"m":58},{"x":-0.141,"y":0.453,"a":197,"m":59},{"x":-0.109,"y":0.453,"a":194,"m":60},{"x":-0.078,"y":0.453,"a":190,"m":61},{"x":-0.047,"y":0.453,"a":186,"m":61},{"x":-0.016,"y":0.453,"a":182,"m":62},{"x":0.016,"y":0.453,"a":178,"m":62},{"x":0.047,"y":0.453,"a":174,"m":61},{"x":0.078,"y":0.453,"a":170,"m":61},{"x":0.109,"y":0.453,"a":166,"m":60},{"x":0.141,"y":0.453,"a":163,"m":59},{"x":0.172,"y":0.453,"a":159,"m":58},{"x":0.203,"y":0.453,"a":156,"m":56},{"x":0.234,"y":0.453,"a":153,"m":55},{"x":0.266,"y":0.453,"a":150,"m":53},{"x":0.297,"y":0.453,"a":147,"m":52},{"x":0.328,"y":0.453,"a":144,"m":50},{"x":0.359,"y":0.453,"a":142,"m":48},{"x":0.391,"y":0.453,"a":139,"m":47},{"x":0.422,"y":0.453,"a":137,"m":45},{"x":0.453,"y":0.453,"a":135,"m":44},{"x":0.484,"y":0.453,"a":133,"m":42},
{"x":-0.484,"y":0.484,"a":225,"m":41},{"x":-0.453,"y":0.484,"a":223,"m":42},{"x":-0.422,"y":0.484,"a":221,"m":44},{"x":-0.391,"y":0.484,"a":219,"m":45},{"x":-0.359,"y":0.484,"a":217,"m":46},{"x":-0.328,"y":0.484,"a":214,"m":48},{"x":-0.297,"y":0.484,"a":211,"m":49},{"x":-0.266,"y":0.484,"a":209,"m":51},{"x":-0.234,"y":0.484,"a":206,"m":52},{"x":-0.203,"y":0.484,"a":203,"m":53},{"x":-0.172,"y":0.484,"a":200,"m":54},{"x":-0.141,"y":0.484,"a":196,"m":56},{"x":-0.109,"y":0.484,"a":193,"m":56},{"x":-0.078,"y":0.484,"a":189,"m":57},{"x":-0.047,"y":0.484,"a":186,"m":58},{"x":-0.016,"y":0.484,"a":182,"m":58},{"x":0.016,"y":0.484,"a":178,"m":58},{"x":0.047,"y":0.484,"a":174,"m":58},{"x":0.078,"y":0.484,"a":171,"m":57},{"x":0.109,"y":0.484,"a":167,"m":56},{"x":0.141,"y":0.484,"a":164,"m":56},{"x":0.172,"y":0.484,"a":160,"m":54},{"x":0.203,"y":0.484,"a":157,"m":53},{"x":0.234,"y":0.484,"a":154,"m":52},{"x":0.266,"y":0.484,"a":151,"m":51},{"x":0.297,"y":0.484,"a":149,"m":49},{"x":0.328,"y":0.484,"a":146,"m":48},{"x":0.359,"y":0.484,"a":143,"m":46},{"x":0.391,"y":0.484,"a":141,"m":45},{"x":0.422,"y":0.484,"a":139,"m":44},{"x":0.453,"y":0.484,"a":137,"m":42},{"x":0.484,"y":0.484,"a":135,"m":41}]}}
